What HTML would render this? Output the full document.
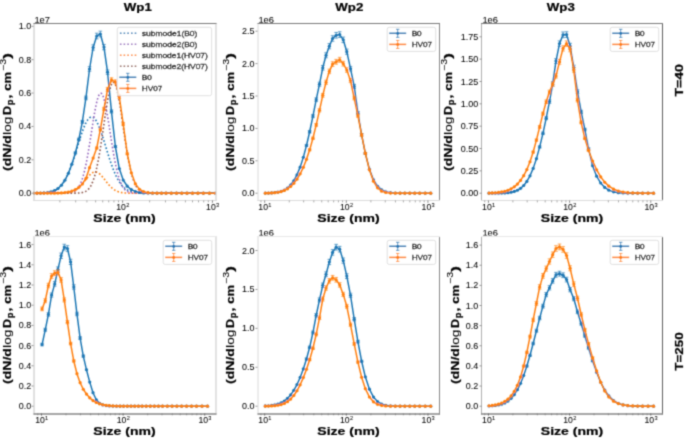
<!DOCTYPE html>
<html><head><meta charset="utf-8"><title>Size distributions</title>
<style>html,body{margin:0;padding:0;background:#fff;width:685px;height:439px;overflow:hidden}svg{display:block;font-family:"Liberation Sans",sans-serif}</style>
</head><body>
<svg width="685" height="439" viewBox="0 0 685 439" font-family="Liberation Sans, sans-serif"><defs><style>text{stroke:#000;stroke-width:0.06px;fill:#000}text[font-weight=bold]{stroke-width:0.22px}text.lg{stroke-width:0.3px}</style><filter id="bl" x="0" y="0" width="685" height="439" filterUnits="userSpaceOnUse"><feConvolveMatrix order="3" kernelMatrix="0.0311 0.1141 0.0311 0.1141 0.4191 0.1141 0.0311 0.1141 0.0311" edgeMode="none"/></filter></defs><rect width="685" height="439" fill="#fff"/><g filter="url(#bl)"><clipPath id="cp00"><rect x="33.50" y="23.50" width="182.00" height="177.00"/></clipPath>
<clipPath id="cp01"><rect x="257.50" y="23.50" width="182.00" height="177.00"/></clipPath>
<clipPath id="cp02"><rect x="481.50" y="23.50" width="181.00" height="177.00"/></clipPath>
<clipPath id="cp10"><rect x="33.50" y="236.50" width="182.00" height="177.00"/></clipPath>
<clipPath id="cp11"><rect x="257.50" y="236.50" width="182.00" height="177.00"/></clipPath>
<clipPath id="cp12"><rect x="481.50" y="236.50" width="181.00" height="177.00"/></clipPath>
<g clip-path="url(#cp00)">
<polyline points="33.50,193.18 33.96,193.18 34.41,193.18 34.87,193.17 35.32,193.17 35.78,193.17 36.24,193.16 36.69,193.16 37.15,193.15 37.61,193.14 38.06,193.14 38.52,193.13 38.97,193.12 39.43,193.11 39.89,193.10 40.34,193.09 40.80,193.07 41.25,193.06 41.71,193.04 42.17,193.02 42.62,193.00 43.08,192.98 43.54,192.95 43.99,192.92 44.45,192.89 44.90,192.86 45.36,192.82 45.82,192.78 46.27,192.73 46.73,192.68 47.18,192.62 47.64,192.56 48.10,192.50 48.55,192.43 49.01,192.35 49.46,192.26 49.92,192.17 50.38,192.07 50.83,191.96 51.29,191.84 51.75,191.71 52.20,191.57 52.66,191.42 53.11,191.26 53.57,191.08 54.03,190.89 54.48,190.69 54.94,190.47 55.39,190.24 55.85,189.99 56.31,189.72 56.76,189.43 57.22,189.13 57.68,188.80 58.13,188.45 58.59,188.08 59.04,187.69 59.50,187.27 59.96,186.83 60.41,186.36 60.87,185.86 61.32,185.34 61.78,184.78 62.24,184.20 62.69,183.59 63.15,182.95 63.61,182.27 64.06,181.57 64.52,180.82 64.97,180.05 65.43,179.24 65.89,178.40 66.34,177.52 66.80,176.61 67.25,175.66 67.71,174.68 68.17,173.66 68.62,172.61 69.08,171.52 69.54,170.40 69.99,169.25 70.45,168.07 70.90,166.85 71.36,165.60 71.82,164.32 72.27,163.02 72.73,161.69 73.18,160.33 73.64,158.95 74.10,157.55 74.55,156.13 75.01,154.70 75.46,153.25 75.92,151.78 76.38,150.31 76.83,148.83 77.29,147.35 77.75,145.86 78.20,144.38 78.66,142.91 79.11,141.44 79.57,139.99 80.03,138.55 80.48,137.13 80.94,135.73 81.39,134.35 81.85,133.01 82.31,131.70 82.76,130.43 83.22,129.19 83.68,128.00 84.13,126.85 84.59,125.76 85.04,124.71 85.50,123.72 85.96,122.79 86.41,121.92 86.87,121.12 87.32,120.38 87.78,119.71 88.24,119.11 88.69,118.58 89.15,118.12 89.61,117.74 90.06,117.43 90.52,117.21 90.97,117.06 91.43,116.98 91.89,116.99 92.34,117.08 92.80,117.24 93.25,117.48 93.71,117.80 94.17,118.19 94.62,118.66 95.08,119.20 95.54,119.81 95.99,120.50 96.45,121.25 96.90,122.07 97.36,122.95 97.82,123.89 98.27,124.88 98.73,125.94 99.18,127.04 99.64,128.20 100.10,129.40 100.55,130.64 101.01,131.92 101.46,133.23 101.92,134.58 102.38,135.96 102.83,137.36 103.29,138.79 103.75,140.23 104.20,141.69 104.66,143.15 105.11,144.63 105.57,146.11 106.03,147.60 106.48,149.08 106.94,150.56 107.39,152.03 107.85,153.49 108.31,154.94 108.76,156.37 109.22,157.79 109.68,159.19 110.13,160.56 110.59,161.91 111.04,163.24 111.50,164.54 111.96,165.81 112.41,167.06 112.87,168.27 113.32,169.45 113.78,170.59 114.24,171.71 114.69,172.79 115.15,173.84 115.61,174.85 116.06,175.82 116.52,176.76 116.97,177.67 117.43,178.54 117.89,179.38 118.34,180.18 118.80,180.95 119.25,181.69 119.71,182.39 120.17,183.06 120.62,183.70 121.08,184.30 121.54,184.88 121.99,185.43 122.45,185.95 122.90,186.44 123.36,186.90 123.82,187.34 124.27,187.75 124.73,188.14 125.18,188.51 125.64,188.85 126.10,189.18 126.55,189.48 127.01,189.76 127.46,190.03 127.92,190.28 128.38,190.51 128.83,190.73 129.29,190.93 129.75,191.11 130.20,191.29 130.66,191.45 131.11,191.59 131.57,191.73 132.03,191.86 132.48,191.98 132.94,192.09 133.39,192.19 133.85,192.28 134.31,192.36 134.76,192.44 135.22,192.51 135.68,192.58 136.13,192.63 136.59,192.69 137.04,192.74 137.50,192.78 137.96,192.82 138.41,192.86 138.87,192.90 139.32,192.93 139.78,192.96 140.24,192.98 140.69,193.00 141.15,193.02 141.61,193.04 142.06,193.06 142.52,193.07 142.97,193.09 143.43,193.10 143.89,193.11 144.34,193.12 144.80,193.13 145.25,193.14 145.71,193.15 146.17,193.15 146.62,193.16 147.08,193.16 147.54,193.17 147.99,193.17 148.45,193.17 148.90,193.18 149.36,193.18 149.82,193.18 150.27,193.18 150.73,193.19 151.18,193.19 151.64,193.19 152.10,193.19 152.55,193.19 153.01,193.19 153.46,193.19 153.92,193.19 154.38,193.20 154.83,193.20 155.29,193.20 155.75,193.20 156.20,193.20 156.66,193.20 157.11,193.20 157.57,193.20 158.03,193.20 158.48,193.20 158.94,193.20 159.39,193.20 159.85,193.20 160.31,193.20 160.76,193.20 161.22,193.20 161.68,193.20 162.13,193.20 162.59,193.20 163.04,193.20 163.50,193.20 163.96,193.20 164.41,193.20 164.87,193.20 165.32,193.20 165.78,193.20 166.24,193.20 166.69,193.20 167.15,193.20 167.61,193.20 168.06,193.20 168.52,193.20 168.97,193.20 169.43,193.20 169.89,193.20 170.34,193.20 170.80,193.20 171.25,193.20 171.71,193.20 172.17,193.20 172.62,193.20 173.08,193.20 173.54,193.20 173.99,193.20 174.45,193.20 174.90,193.20 175.36,193.20 175.82,193.20 176.27,193.20 176.73,193.20 177.18,193.20 177.64,193.20 178.10,193.20 178.55,193.20 179.01,193.20 179.46,193.20 179.92,193.20 180.38,193.20 180.83,193.20 181.29,193.20 181.75,193.20 182.20,193.20 182.66,193.20 183.11,193.20 183.57,193.20 184.03,193.20 184.48,193.20 184.94,193.20 185.39,193.20 185.85,193.20 186.31,193.20 186.76,193.20 187.22,193.20 187.68,193.20 188.13,193.20 188.59,193.20 189.04,193.20 189.50,193.20 189.96,193.20 190.41,193.20 190.87,193.20 191.32,193.20 191.78,193.20 192.24,193.20 192.69,193.20 193.15,193.20 193.61,193.20 194.06,193.20 194.52,193.20 194.97,193.20 195.43,193.20 195.89,193.20 196.34,193.20 196.80,193.20 197.25,193.20 197.71,193.20 198.17,193.20 198.62,193.20 199.08,193.20 199.54,193.20 199.99,193.20 200.45,193.20 200.90,193.20 201.36,193.20 201.82,193.20 202.27,193.20 202.73,193.20 203.18,193.20 203.64,193.20 204.10,193.20 204.55,193.20 205.01,193.20 205.46,193.20 205.92,193.20 206.38,193.20 206.83,193.20 207.29,193.20 207.75,193.20 208.20,193.20 208.66,193.20 209.11,193.20 209.57,193.20 210.03,193.20 210.48,193.20 210.94,193.20 211.39,193.20 211.85,193.20 212.31,193.20 212.76,193.20 213.22,193.20 213.68,193.20 214.13,193.20 214.59,193.20 215.04,193.20 215.50,193.20" fill="none" stroke="#1f77b4" stroke-width="1.6" stroke-dasharray="1.6 2.1" />
<polyline points="33.50,193.20 33.96,193.20 34.41,193.20 34.87,193.20 35.32,193.20 35.78,193.20 36.24,193.20 36.69,193.20 37.15,193.20 37.61,193.20 38.06,193.20 38.52,193.20 38.97,193.20 39.43,193.20 39.89,193.20 40.34,193.20 40.80,193.20 41.25,193.20 41.71,193.20 42.17,193.20 42.62,193.20 43.08,193.20 43.54,193.20 43.99,193.20 44.45,193.20 44.90,193.20 45.36,193.20 45.82,193.20 46.27,193.20 46.73,193.20 47.18,193.20 47.64,193.20 48.10,193.20 48.55,193.20 49.01,193.20 49.46,193.20 49.92,193.20 50.38,193.20 50.83,193.20 51.29,193.20 51.75,193.20 52.20,193.20 52.66,193.20 53.11,193.20 53.57,193.20 54.03,193.20 54.48,193.20 54.94,193.20 55.39,193.20 55.85,193.20 56.31,193.20 56.76,193.20 57.22,193.20 57.68,193.20 58.13,193.20 58.59,193.20 59.04,193.20 59.50,193.19 59.96,193.19 60.41,193.19 60.87,193.19 61.32,193.19 61.78,193.18 62.24,193.18 62.69,193.17 63.15,193.17 63.61,193.16 64.06,193.15 64.52,193.14 64.97,193.13 65.43,193.12 65.89,193.10 66.34,193.08 66.80,193.06 67.25,193.03 67.71,193.00 68.17,192.96 68.62,192.92 69.08,192.87 69.54,192.81 69.99,192.74 70.45,192.67 70.90,192.58 71.36,192.47 71.82,192.35 72.27,192.22 72.73,192.06 73.18,191.88 73.64,191.68 74.10,191.45 74.55,191.20 75.01,190.91 75.46,190.58 75.92,190.22 76.38,189.81 76.83,189.36 77.29,188.86 77.75,188.30 78.20,187.69 78.66,187.01 79.11,186.26 79.57,185.45 80.03,184.56 80.48,183.59 80.94,182.53 81.39,181.39 81.85,180.15 82.31,178.82 82.76,177.40 83.22,175.87 83.68,174.24 84.13,172.50 84.59,170.66 85.04,168.72 85.50,166.67 85.96,164.51 86.41,162.26 86.87,159.90 87.32,157.45 87.78,154.91 88.24,152.29 88.69,149.59 89.15,146.83 89.61,144.00 90.06,141.13 90.52,138.22 90.97,135.28 91.43,132.33 91.89,129.38 92.34,126.45 92.80,123.55 93.25,120.69 93.71,117.89 94.17,115.18 94.62,112.55 95.08,110.03 95.54,107.64 95.99,105.39 96.45,103.29 96.90,101.36 97.36,99.61 97.82,98.05 98.27,96.70 98.73,95.55 99.18,94.63 99.64,93.93 100.10,93.47 100.55,93.24 101.01,93.24 101.46,93.49 101.92,93.96 102.38,94.67 102.83,95.61 103.29,96.76 103.75,98.13 104.20,99.69 104.66,101.45 105.11,103.39 105.57,105.50 106.03,107.76 106.48,110.16 106.94,112.68 107.39,115.31 107.85,118.03 108.31,120.83 108.76,123.69 109.22,126.60 109.68,129.53 110.13,132.48 110.59,135.43 111.04,138.36 111.50,141.27 111.96,144.15 112.41,146.97 112.87,149.73 113.32,152.43 113.78,155.04 114.24,157.58 114.69,160.02 115.15,162.37 115.61,164.62 116.06,166.77 116.52,168.82 116.97,170.76 117.43,172.59 117.89,174.32 118.34,175.95 118.80,177.47 119.25,178.89 119.71,180.22 120.17,181.45 120.62,182.59 121.08,183.64 121.54,184.60 121.99,185.49 122.45,186.30 122.90,187.05 123.36,187.72 123.82,188.33 124.27,188.89 124.73,189.39 125.18,189.84 125.64,190.24 126.10,190.60 126.55,190.92 127.01,191.21 127.46,191.47 127.92,191.69 128.38,191.89 128.83,192.07 129.29,192.22 129.75,192.36 130.20,192.48 130.66,192.58 131.11,192.67 131.57,192.75 132.03,192.81 132.48,192.87 132.94,192.92 133.39,192.97 133.85,193.00 134.31,193.03 134.76,193.06 135.22,193.08 135.68,193.10 136.13,193.12 136.59,193.13 137.04,193.14 137.50,193.15 137.96,193.16 138.41,193.17 138.87,193.17 139.32,193.18 139.78,193.18 140.24,193.19 140.69,193.19 141.15,193.19 141.61,193.19 142.06,193.19 142.52,193.20 142.97,193.20 143.43,193.20 143.89,193.20 144.34,193.20 144.80,193.20 145.25,193.20 145.71,193.20 146.17,193.20 146.62,193.20 147.08,193.20 147.54,193.20 147.99,193.20 148.45,193.20 148.90,193.20 149.36,193.20 149.82,193.20 150.27,193.20 150.73,193.20 151.18,193.20 151.64,193.20 152.10,193.20 152.55,193.20 153.01,193.20 153.46,193.20 153.92,193.20 154.38,193.20 154.83,193.20 155.29,193.20 155.75,193.20 156.20,193.20 156.66,193.20 157.11,193.20 157.57,193.20 158.03,193.20 158.48,193.20 158.94,193.20 159.39,193.20 159.85,193.20 160.31,193.20 160.76,193.20 161.22,193.20 161.68,193.20 162.13,193.20 162.59,193.20 163.04,193.20 163.50,193.20 163.96,193.20 164.41,193.20 164.87,193.20 165.32,193.20 165.78,193.20 166.24,193.20 166.69,193.20 167.15,193.20 167.61,193.20 168.06,193.20 168.52,193.20 168.97,193.20 169.43,193.20 169.89,193.20 170.34,193.20 170.80,193.20 171.25,193.20 171.71,193.20 172.17,193.20 172.62,193.20 173.08,193.20 173.54,193.20 173.99,193.20 174.45,193.20 174.90,193.20 175.36,193.20 175.82,193.20 176.27,193.20 176.73,193.20 177.18,193.20 177.64,193.20 178.10,193.20 178.55,193.20 179.01,193.20 179.46,193.20 179.92,193.20 180.38,193.20 180.83,193.20 181.29,193.20 181.75,193.20 182.20,193.20 182.66,193.20 183.11,193.20 183.57,193.20 184.03,193.20 184.48,193.20 184.94,193.20 185.39,193.20 185.85,193.20 186.31,193.20 186.76,193.20 187.22,193.20 187.68,193.20 188.13,193.20 188.59,193.20 189.04,193.20 189.50,193.20 189.96,193.20 190.41,193.20 190.87,193.20 191.32,193.20 191.78,193.20 192.24,193.20 192.69,193.20 193.15,193.20 193.61,193.20 194.06,193.20 194.52,193.20 194.97,193.20 195.43,193.20 195.89,193.20 196.34,193.20 196.80,193.20 197.25,193.20 197.71,193.20 198.17,193.20 198.62,193.20 199.08,193.20 199.54,193.20 199.99,193.20 200.45,193.20 200.90,193.20 201.36,193.20 201.82,193.20 202.27,193.20 202.73,193.20 203.18,193.20 203.64,193.20 204.10,193.20 204.55,193.20 205.01,193.20 205.46,193.20 205.92,193.20 206.38,193.20 206.83,193.20 207.29,193.20 207.75,193.20 208.20,193.20 208.66,193.20 209.11,193.20 209.57,193.20 210.03,193.20 210.48,193.20 210.94,193.20 211.39,193.20 211.85,193.20 212.31,193.20 212.76,193.20 213.22,193.20 213.68,193.20 214.13,193.20 214.59,193.20 215.04,193.20 215.50,193.20" fill="none" stroke="#9467bd" stroke-width="1.6" stroke-dasharray="1.6 2.1" />
<polyline points="33.50,193.20 33.96,193.20 34.41,193.20 34.87,193.20 35.32,193.20 35.78,193.20 36.24,193.20 36.69,193.20 37.15,193.20 37.61,193.20 38.06,193.20 38.52,193.20 38.97,193.20 39.43,193.20 39.89,193.20 40.34,193.20 40.80,193.20 41.25,193.20 41.71,193.20 42.17,193.20 42.62,193.20 43.08,193.20 43.54,193.20 43.99,193.20 44.45,193.20 44.90,193.20 45.36,193.20 45.82,193.20 46.27,193.20 46.73,193.20 47.18,193.20 47.64,193.20 48.10,193.20 48.55,193.20 49.01,193.20 49.46,193.20 49.92,193.20 50.38,193.20 50.83,193.20 51.29,193.20 51.75,193.20 52.20,193.20 52.66,193.20 53.11,193.20 53.57,193.20 54.03,193.20 54.48,193.19 54.94,193.19 55.39,193.19 55.85,193.19 56.31,193.19 56.76,193.19 57.22,193.18 57.68,193.18 58.13,193.18 58.59,193.17 59.04,193.17 59.50,193.16 59.96,193.16 60.41,193.15 60.87,193.14 61.32,193.13 61.78,193.12 62.24,193.11 62.69,193.09 63.15,193.08 63.61,193.06 64.06,193.04 64.52,193.01 64.97,192.98 65.43,192.95 65.89,192.91 66.34,192.87 66.80,192.83 67.25,192.78 67.71,192.72 68.17,192.66 68.62,192.59 69.08,192.51 69.54,192.42 69.99,192.32 70.45,192.22 70.90,192.10 71.36,191.97 71.82,191.83 72.27,191.68 72.73,191.51 73.18,191.33 73.64,191.14 74.10,190.93 74.55,190.70 75.01,190.46 75.46,190.19 75.92,189.91 76.38,189.62 76.83,189.30 77.29,188.96 77.75,188.60 78.20,188.23 78.66,187.83 79.11,187.41 79.57,186.98 80.03,186.52 80.48,186.05 80.94,185.56 81.39,185.06 81.85,184.53 82.31,184.00 82.76,183.45 83.22,182.89 83.68,182.32 84.13,181.74 84.59,181.16 85.04,180.57 85.50,179.98 85.96,179.40 86.41,178.82 86.87,178.24 87.32,177.67 87.78,177.12 88.24,176.58 88.69,176.06 89.15,175.56 89.61,175.08 90.06,174.63 90.52,174.20 90.97,173.81 91.43,173.45 91.89,173.12 92.34,172.83 92.80,172.58 93.25,172.37 93.71,172.20 94.17,172.08 94.62,171.99 95.08,171.96 95.54,171.96 95.99,172.01 96.45,172.11 96.90,172.24 97.36,172.42 97.82,172.64 98.27,172.90 98.73,173.20 99.18,173.54 99.64,173.91 100.10,174.31 100.55,174.74 101.01,175.20 101.46,175.69 101.92,176.19 102.38,176.72 102.83,177.26 103.29,177.82 103.75,178.39 104.20,178.97 104.66,179.55 105.11,180.14 105.57,180.73 106.03,181.31 106.48,181.89 106.94,182.47 107.39,183.04 107.85,183.59 108.31,184.14 108.76,184.67 109.22,185.19 109.68,185.69 110.13,186.18 110.59,186.65 111.04,187.10 111.50,187.53 111.96,187.94 112.41,188.33 112.87,188.70 113.32,189.05 113.78,189.38 114.24,189.70 114.69,189.99 115.15,190.27 115.61,190.52 116.06,190.76 116.52,190.99 116.97,191.19 117.43,191.38 117.89,191.56 118.34,191.72 118.80,191.87 119.25,192.01 119.71,192.13 120.17,192.25 120.62,192.35 121.08,192.44 121.54,192.53 121.99,192.60 122.45,192.67 122.90,192.74 123.36,192.79 123.82,192.84 124.27,192.88 124.73,192.92 125.18,192.96 125.64,192.99 126.10,193.02 126.55,193.04 127.01,193.06 127.46,193.08 127.92,193.10 128.38,193.11 128.83,193.12 129.29,193.14 129.75,193.14 130.20,193.15 130.66,193.16 131.11,193.17 131.57,193.17 132.03,193.18 132.48,193.18 132.94,193.18 133.39,193.19 133.85,193.19 134.31,193.19 134.76,193.19 135.22,193.19 135.68,193.19 136.13,193.19 136.59,193.20 137.04,193.20 137.50,193.20 137.96,193.20 138.41,193.20 138.87,193.20 139.32,193.20 139.78,193.20 140.24,193.20 140.69,193.20 141.15,193.20 141.61,193.20 142.06,193.20 142.52,193.20 142.97,193.20 143.43,193.20 143.89,193.20 144.34,193.20 144.80,193.20 145.25,193.20 145.71,193.20 146.17,193.20 146.62,193.20 147.08,193.20 147.54,193.20 147.99,193.20 148.45,193.20 148.90,193.20 149.36,193.20 149.82,193.20 150.27,193.20 150.73,193.20 151.18,193.20 151.64,193.20 152.10,193.20 152.55,193.20 153.01,193.20 153.46,193.20 153.92,193.20 154.38,193.20 154.83,193.20 155.29,193.20 155.75,193.20 156.20,193.20 156.66,193.20 157.11,193.20 157.57,193.20 158.03,193.20 158.48,193.20 158.94,193.20 159.39,193.20 159.85,193.20 160.31,193.20 160.76,193.20 161.22,193.20 161.68,193.20 162.13,193.20 162.59,193.20 163.04,193.20 163.50,193.20 163.96,193.20 164.41,193.20 164.87,193.20 165.32,193.20 165.78,193.20 166.24,193.20 166.69,193.20 167.15,193.20 167.61,193.20 168.06,193.20 168.52,193.20 168.97,193.20 169.43,193.20 169.89,193.20 170.34,193.20 170.80,193.20 171.25,193.20 171.71,193.20 172.17,193.20 172.62,193.20 173.08,193.20 173.54,193.20 173.99,193.20 174.45,193.20 174.90,193.20 175.36,193.20 175.82,193.20 176.27,193.20 176.73,193.20 177.18,193.20 177.64,193.20 178.10,193.20 178.55,193.20 179.01,193.20 179.46,193.20 179.92,193.20 180.38,193.20 180.83,193.20 181.29,193.20 181.75,193.20 182.20,193.20 182.66,193.20 183.11,193.20 183.57,193.20 184.03,193.20 184.48,193.20 184.94,193.20 185.39,193.20 185.85,193.20 186.31,193.20 186.76,193.20 187.22,193.20 187.68,193.20 188.13,193.20 188.59,193.20 189.04,193.20 189.50,193.20 189.96,193.20 190.41,193.20 190.87,193.20 191.32,193.20 191.78,193.20 192.24,193.20 192.69,193.20 193.15,193.20 193.61,193.20 194.06,193.20 194.52,193.20 194.97,193.20 195.43,193.20 195.89,193.20 196.34,193.20 196.80,193.20 197.25,193.20 197.71,193.20 198.17,193.20 198.62,193.20 199.08,193.20 199.54,193.20 199.99,193.20 200.45,193.20 200.90,193.20 201.36,193.20 201.82,193.20 202.27,193.20 202.73,193.20 203.18,193.20 203.64,193.20 204.10,193.20 204.55,193.20 205.01,193.20 205.46,193.20 205.92,193.20 206.38,193.20 206.83,193.20 207.29,193.20 207.75,193.20 208.20,193.20 208.66,193.20 209.11,193.20 209.57,193.20 210.03,193.20 210.48,193.20 210.94,193.20 211.39,193.20 211.85,193.20 212.31,193.20 212.76,193.20 213.22,193.20 213.68,193.20 214.13,193.20 214.59,193.20 215.04,193.20 215.50,193.20" fill="none" stroke="#ff7f0e" stroke-width="1.6" stroke-dasharray="1.6 2.1" />
<polyline points="33.50,193.20 33.96,193.20 34.41,193.20 34.87,193.20 35.32,193.20 35.78,193.20 36.24,193.20 36.69,193.20 37.15,193.20 37.61,193.20 38.06,193.20 38.52,193.20 38.97,193.20 39.43,193.20 39.89,193.20 40.34,193.20 40.80,193.20 41.25,193.20 41.71,193.20 42.17,193.20 42.62,193.20 43.08,193.20 43.54,193.20 43.99,193.20 44.45,193.20 44.90,193.20 45.36,193.20 45.82,193.20 46.27,193.20 46.73,193.20 47.18,193.20 47.64,193.20 48.10,193.20 48.55,193.20 49.01,193.20 49.46,193.20 49.92,193.20 50.38,193.20 50.83,193.20 51.29,193.20 51.75,193.20 52.20,193.20 52.66,193.20 53.11,193.20 53.57,193.20 54.03,193.20 54.48,193.20 54.94,193.20 55.39,193.20 55.85,193.20 56.31,193.20 56.76,193.20 57.22,193.20 57.68,193.20 58.13,193.20 58.59,193.20 59.04,193.20 59.50,193.20 59.96,193.20 60.41,193.20 60.87,193.20 61.32,193.20 61.78,193.20 62.24,193.20 62.69,193.20 63.15,193.20 63.61,193.20 64.06,193.20 64.52,193.20 64.97,193.20 65.43,193.20 65.89,193.20 66.34,193.20 66.80,193.20 67.25,193.20 67.71,193.20 68.17,193.20 68.62,193.20 69.08,193.20 69.54,193.20 69.99,193.20 70.45,193.19 70.90,193.19 71.36,193.19 71.82,193.19 72.27,193.19 72.73,193.18 73.18,193.18 73.64,193.18 74.10,193.17 74.55,193.16 75.01,193.16 75.46,193.15 75.92,193.14 76.38,193.12 76.83,193.11 77.29,193.09 77.75,193.07 78.20,193.05 78.66,193.02 79.11,192.99 79.57,192.95 80.03,192.90 80.48,192.85 80.94,192.79 81.39,192.72 81.85,192.64 82.31,192.55 82.76,192.44 83.22,192.32 83.68,192.19 84.13,192.03 84.59,191.85 85.04,191.65 85.50,191.43 85.96,191.17 86.41,190.89 86.87,190.57 87.32,190.21 87.78,189.81 88.24,189.36 88.69,188.87 89.15,188.33 89.61,187.72 90.06,187.06 90.52,186.33 90.97,185.53 91.43,184.66 91.89,183.71 92.34,182.68 92.80,181.56 93.25,180.36 93.71,179.05 94.17,177.65 94.62,176.15 95.08,174.55 95.54,172.84 95.99,171.02 96.45,169.09 96.90,167.06 97.36,164.91 97.82,162.66 98.27,160.30 98.73,157.83 99.18,155.26 99.64,152.60 100.10,149.85 100.55,147.01 101.01,144.10 101.46,141.12 101.92,138.07 102.38,134.98 102.83,131.86 103.29,128.70 103.75,125.54 104.20,122.38 104.66,119.23 105.11,116.11 105.57,113.04 106.03,110.03 106.48,107.10 106.94,104.27 107.39,101.54 107.85,98.94 108.31,96.48 108.76,94.17 109.22,92.03 109.68,90.08 110.13,88.32 110.59,86.76 111.04,85.42 111.50,84.31 111.96,83.42 112.41,82.78 112.87,82.37 113.32,82.21 113.78,82.30 114.24,82.63 114.69,83.20 115.15,84.02 115.61,85.06 116.06,86.33 116.52,87.83 116.97,89.52 117.43,91.42 117.89,93.51 118.34,95.76 118.80,98.18 119.25,100.74 119.71,103.43 120.17,106.24 120.62,109.14 121.08,112.13 121.54,115.18 121.99,118.29 122.45,121.43 122.90,124.59 123.36,127.75 123.82,130.91 124.27,134.05 124.73,137.15 125.18,140.21 125.64,143.21 126.10,146.14 126.55,149.00 127.01,151.78 127.46,154.47 127.92,157.07 128.38,159.56 128.83,161.96 129.29,164.24 129.75,166.42 130.20,168.49 130.66,170.45 131.11,172.30 131.57,174.04 132.03,175.68 132.48,177.21 132.94,178.64 133.39,179.97 133.85,181.21 134.31,182.35 134.76,183.41 135.22,184.39 135.68,185.28 136.13,186.10 136.59,186.85 137.04,187.53 137.50,188.15 137.96,188.71 138.41,189.22 138.87,189.68 139.32,190.09 139.78,190.46 140.24,190.79 140.69,191.09 141.15,191.35 141.61,191.59 142.06,191.80 142.52,191.98 142.97,192.14 143.43,192.28 143.89,192.41 144.34,192.52 144.80,192.61 145.25,192.70 145.71,192.77 146.17,192.83 146.62,192.89 147.08,192.93 147.54,192.97 147.99,193.01 148.45,193.04 148.90,193.06 149.36,193.09 149.82,193.10 150.27,193.12 150.73,193.13 151.18,193.14 151.64,193.15 152.10,193.16 152.55,193.17 153.01,193.17 153.46,193.18 153.92,193.18 154.38,193.19 154.83,193.19 155.29,193.19 155.75,193.19 156.20,193.19 156.66,193.19 157.11,193.20 157.57,193.20 158.03,193.20 158.48,193.20 158.94,193.20 159.39,193.20 159.85,193.20 160.31,193.20 160.76,193.20 161.22,193.20 161.68,193.20 162.13,193.20 162.59,193.20 163.04,193.20 163.50,193.20 163.96,193.20 164.41,193.20 164.87,193.20 165.32,193.20 165.78,193.20 166.24,193.20 166.69,193.20 167.15,193.20 167.61,193.20 168.06,193.20 168.52,193.20 168.97,193.20 169.43,193.20 169.89,193.20 170.34,193.20 170.80,193.20 171.25,193.20 171.71,193.20 172.17,193.20 172.62,193.20 173.08,193.20 173.54,193.20 173.99,193.20 174.45,193.20 174.90,193.20 175.36,193.20 175.82,193.20 176.27,193.20 176.73,193.20 177.18,193.20 177.64,193.20 178.10,193.20 178.55,193.20 179.01,193.20 179.46,193.20 179.92,193.20 180.38,193.20 180.83,193.20 181.29,193.20 181.75,193.20 182.20,193.20 182.66,193.20 183.11,193.20 183.57,193.20 184.03,193.20 184.48,193.20 184.94,193.20 185.39,193.20 185.85,193.20 186.31,193.20 186.76,193.20 187.22,193.20 187.68,193.20 188.13,193.20 188.59,193.20 189.04,193.20 189.50,193.20 189.96,193.20 190.41,193.20 190.87,193.20 191.32,193.20 191.78,193.20 192.24,193.20 192.69,193.20 193.15,193.20 193.61,193.20 194.06,193.20 194.52,193.20 194.97,193.20 195.43,193.20 195.89,193.20 196.34,193.20 196.80,193.20 197.25,193.20 197.71,193.20 198.17,193.20 198.62,193.20 199.08,193.20 199.54,193.20 199.99,193.20 200.45,193.20 200.90,193.20 201.36,193.20 201.82,193.20 202.27,193.20 202.73,193.20 203.18,193.20 203.64,193.20 204.10,193.20 204.55,193.20 205.01,193.20 205.46,193.20 205.92,193.20 206.38,193.20 206.83,193.20 207.29,193.20 207.75,193.20 208.20,193.20 208.66,193.20 209.11,193.20 209.57,193.20 210.03,193.20 210.48,193.20 210.94,193.20 211.39,193.20 211.85,193.20 212.31,193.20 212.76,193.20 213.22,193.20 213.68,193.20 214.13,193.20 214.59,193.20 215.04,193.20 215.50,193.20" fill="none" stroke="#8c564b" stroke-width="1.6" stroke-dasharray="1.6 2.1" />
<polyline points="33.50,193.18 36.99,193.14 40.48,193.07 43.96,192.89 47.45,192.54 50.94,191.87 54.43,190.65 57.91,188.57 61.40,185.25 64.89,180.27 68.38,173.30 71.86,164.19 75.35,152.94 78.84,139.29 82.33,121.86 85.93,97.90 89.54,69.00 93.14,47.50 96.74,36.00 100.35,34.00 103.95,47.10 107.56,72.20 111.46,111.40 115.37,146.50 119.27,168.59 123.18,180.03 127.26,186.22 131.33,189.62 135.41,191.48 139.49,192.43 143.56,192.88 148.05,193.09 152.54,193.17 157.03,193.19 161.52,193.20 166.01,193.20 171.26,193.20 176.51,193.20 181.77,193.20 187.02,193.20 192.47,193.20 197.91,193.20 203.36,193.20 209.43,193.20 215.50,193.20" fill="none" stroke="#1f77b4" stroke-width="1.5" stroke-linejoin="round"/>
<path d="M75.35 152.00V153.89M73.55 152.00h3.6M73.55 153.89h3.6M78.84 138.13V140.46M77.04 138.13h3.6M77.04 140.46h3.6M82.33 120.42V123.30M80.53 120.42h3.6M80.53 123.30h3.6M85.93 96.08V99.72M84.13 96.08h3.6M84.13 99.72h3.6M89.54 66.71V71.29M87.74 66.71h3.6M87.74 71.29h3.6M93.14 44.87V50.13M91.34 44.87h3.6M91.34 50.13h3.6M96.74 33.18V38.82M94.94 33.18h3.6M94.94 38.82h3.6M100.35 31.15V36.85M98.55 31.15h3.6M98.55 36.85h3.6M103.95 44.46V49.74M102.15 44.46h3.6M102.15 49.74h3.6M107.56 69.96V74.44M105.76 69.96h3.6M105.76 74.44h3.6M111.46 109.79V113.01M109.66 109.79h3.6M109.66 113.01h3.6M115.37 145.45V147.54M113.57 145.45h3.6M113.57 147.54h3.6" fill="none" stroke="#1f77b4" stroke-width="0.8" opacity="0.85"/>
<g fill="#1f77b4"><circle cx="33.50" cy="193.18" r="1.6"/><circle cx="36.99" cy="193.14" r="1.6"/><circle cx="40.48" cy="193.07" r="1.6"/><circle cx="43.96" cy="192.89" r="1.6"/><circle cx="47.45" cy="192.54" r="1.6"/><circle cx="50.94" cy="191.87" r="1.6"/><circle cx="54.43" cy="190.65" r="1.6"/><circle cx="57.91" cy="188.57" r="1.6"/><circle cx="61.40" cy="185.25" r="1.6"/><circle cx="64.89" cy="180.27" r="1.6"/><circle cx="68.38" cy="173.30" r="1.6"/><circle cx="71.86" cy="164.19" r="1.6"/><circle cx="75.35" cy="152.94" r="1.6"/><circle cx="78.84" cy="139.29" r="1.6"/><circle cx="82.33" cy="121.86" r="1.6"/><circle cx="85.93" cy="97.90" r="1.6"/><circle cx="89.54" cy="69.00" r="1.6"/><circle cx="93.14" cy="47.50" r="1.6"/><circle cx="96.74" cy="36.00" r="1.6"/><circle cx="100.35" cy="34.00" r="1.6"/><circle cx="103.95" cy="47.10" r="1.6"/><circle cx="107.56" cy="72.20" r="1.6"/><circle cx="111.46" cy="111.40" r="1.6"/><circle cx="115.37" cy="146.50" r="1.6"/><circle cx="119.27" cy="168.59" r="1.6"/><circle cx="123.18" cy="180.03" r="1.6"/><circle cx="127.26" cy="186.22" r="1.6"/><circle cx="131.33" cy="189.62" r="1.6"/><circle cx="135.41" cy="191.48" r="1.6"/><circle cx="139.49" cy="192.43" r="1.6"/><circle cx="143.56" cy="192.88" r="1.6"/><circle cx="148.05" cy="193.09" r="1.6"/><circle cx="152.54" cy="193.17" r="1.6"/><circle cx="157.03" cy="193.19" r="1.6"/><circle cx="161.52" cy="193.20" r="1.6"/><circle cx="166.01" cy="193.20" r="1.6"/><circle cx="171.26" cy="193.20" r="1.6"/><circle cx="176.51" cy="193.20" r="1.6"/><circle cx="181.77" cy="193.20" r="1.6"/><circle cx="187.02" cy="193.20" r="1.6"/><circle cx="192.47" cy="193.20" r="1.6"/><circle cx="197.91" cy="193.20" r="1.6"/><circle cx="203.36" cy="193.20" r="1.6"/><circle cx="209.43" cy="193.20" r="1.6"/><circle cx="215.50" cy="193.20" r="1.6"/></g>
<polyline points="33.50,193.20 36.99,193.20 40.48,193.20 43.96,193.20 47.45,193.19 50.94,193.18 54.43,193.14 57.91,193.07 61.40,192.91 64.89,192.60 68.38,192.05 71.86,191.10 75.35,189.59 78.84,187.30 82.33,183.98 85.93,178.39 89.54,167.70 93.14,158.11 96.74,148.00 100.35,129.60 103.95,109.00 107.56,89.40 111.46,79.90 115.37,81.90 119.27,96.60 123.18,123.90 127.26,153.75 131.33,172.81 135.41,183.92 139.49,189.35 143.56,191.68 148.05,192.67 152.54,193.02 157.03,193.14 161.52,193.18 166.01,193.19 171.26,193.20 176.51,193.20 181.77,193.20 187.02,193.20 192.47,193.20 197.91,193.20 203.36,193.20 209.43,193.20 215.50,193.20" fill="none" stroke="#ff7f0e" stroke-width="1.5" stroke-linejoin="round"/>
<path d="M96.74 146.97V149.02M94.94 146.97h3.6M94.94 149.02h3.6M100.35 128.28V130.92M98.55 128.28h3.6M98.55 130.92h3.6M103.95 107.35V110.65M102.15 107.35h3.6M102.15 110.65h3.6M107.56 87.44V91.36M105.76 87.44h3.6M105.76 91.36h3.6M111.46 77.79V82.01M109.66 77.79h3.6M109.66 82.01h3.6M115.37 79.82V83.98M113.57 79.82h3.6M113.57 83.98h3.6M119.27 94.75V98.45M117.47 94.75h3.6M117.47 98.45h3.6M123.18 122.49V125.31M121.38 122.49h3.6M121.38 125.31h3.6M127.26 152.82V154.68M125.46 152.82h3.6M125.46 154.68h3.6" fill="none" stroke="#ff7f0e" stroke-width="0.8" opacity="0.85"/>
<g fill="#ff7f0e"><circle cx="33.50" cy="193.20" r="1.6"/><circle cx="36.99" cy="193.20" r="1.6"/><circle cx="40.48" cy="193.20" r="1.6"/><circle cx="43.96" cy="193.20" r="1.6"/><circle cx="47.45" cy="193.19" r="1.6"/><circle cx="50.94" cy="193.18" r="1.6"/><circle cx="54.43" cy="193.14" r="1.6"/><circle cx="57.91" cy="193.07" r="1.6"/><circle cx="61.40" cy="192.91" r="1.6"/><circle cx="64.89" cy="192.60" r="1.6"/><circle cx="68.38" cy="192.05" r="1.6"/><circle cx="71.86" cy="191.10" r="1.6"/><circle cx="75.35" cy="189.59" r="1.6"/><circle cx="78.84" cy="187.30" r="1.6"/><circle cx="82.33" cy="183.98" r="1.6"/><circle cx="85.93" cy="178.39" r="1.6"/><circle cx="89.54" cy="167.70" r="1.6"/><circle cx="93.14" cy="158.11" r="1.6"/><circle cx="96.74" cy="148.00" r="1.6"/><circle cx="100.35" cy="129.60" r="1.6"/><circle cx="103.95" cy="109.00" r="1.6"/><circle cx="107.56" cy="89.40" r="1.6"/><circle cx="111.46" cy="79.90" r="1.6"/><circle cx="115.37" cy="81.90" r="1.6"/><circle cx="119.27" cy="96.60" r="1.6"/><circle cx="123.18" cy="123.90" r="1.6"/><circle cx="127.26" cy="153.75" r="1.6"/><circle cx="131.33" cy="172.81" r="1.6"/><circle cx="135.41" cy="183.92" r="1.6"/><circle cx="139.49" cy="189.35" r="1.6"/><circle cx="143.56" cy="191.68" r="1.6"/><circle cx="148.05" cy="192.67" r="1.6"/><circle cx="152.54" cy="193.02" r="1.6"/><circle cx="157.03" cy="193.14" r="1.6"/><circle cx="161.52" cy="193.18" r="1.6"/><circle cx="166.01" cy="193.19" r="1.6"/><circle cx="171.26" cy="193.20" r="1.6"/><circle cx="176.51" cy="193.20" r="1.6"/><circle cx="181.77" cy="193.20" r="1.6"/><circle cx="187.02" cy="193.20" r="1.6"/><circle cx="192.47" cy="193.20" r="1.6"/><circle cx="197.91" cy="193.20" r="1.6"/><circle cx="203.36" cy="193.20" r="1.6"/><circle cx="209.43" cy="193.20" r="1.6"/><circle cx="215.50" cy="193.20" r="1.6"/></g>
</g>
<line x1="34.00" y1="23.00" x2="34.00" y2="201.00" stroke="rgb(194,194,194)" stroke-width="1.00"/>
<line x1="216.00" y1="23.00" x2="216.00" y2="201.00" stroke="rgb(199,199,199)" stroke-width="1.00"/>
<line x1="33.50" y1="23.50" x2="216.50" y2="23.50" stroke="rgb(124,124,124)" stroke-width="1.00"/>
<line x1="33.50" y1="200.50" x2="216.50" y2="200.50" stroke="rgb(219,219,219)" stroke-width="1.00"/>
<text x="121.14" y="210.10" font-size="8.50" text-anchor="middle" font-weight="normal" textLength="9.69" lengthAdjust="spacingAndGlyphs" fill="#1a1a1a">10</text>
<text x="126.24" y="206.70" font-size="5.60" text-anchor="start" font-weight="normal" fill="#1a1a1a">2</text>
<text x="210.93" y="210.10" font-size="8.50" text-anchor="middle" font-weight="normal" textLength="9.69" lengthAdjust="spacingAndGlyphs" fill="#1a1a1a">10</text>
<text x="216.03" y="206.70" font-size="5.60" text-anchor="start" font-weight="normal" fill="#1a1a1a">3</text>
<line x1="59.88" y1="200.50" x2="59.88" y2="202.30" stroke="#777" stroke-width="0.7"/><line x1="75.69" y1="200.50" x2="75.69" y2="202.30" stroke="#777" stroke-width="0.7"/><line x1="86.91" y1="200.50" x2="86.91" y2="202.30" stroke="#777" stroke-width="0.7"/><line x1="95.61" y1="200.50" x2="95.61" y2="202.30" stroke="#777" stroke-width="0.7"/><line x1="102.72" y1="200.50" x2="102.72" y2="202.30" stroke="#777" stroke-width="0.7"/><line x1="108.73" y1="200.50" x2="108.73" y2="202.30" stroke="#777" stroke-width="0.7"/><line x1="113.94" y1="200.50" x2="113.94" y2="202.30" stroke="#777" stroke-width="0.7"/><line x1="118.53" y1="200.50" x2="118.53" y2="202.30" stroke="#777" stroke-width="0.7"/><line x1="122.64" y1="200.50" x2="122.64" y2="202.70" stroke="#555" stroke-width="0.8"/><line x1="149.67" y1="200.50" x2="149.67" y2="202.30" stroke="#777" stroke-width="0.7"/><line x1="165.48" y1="200.50" x2="165.48" y2="202.30" stroke="#777" stroke-width="0.7"/><line x1="176.70" y1="200.50" x2="176.70" y2="202.30" stroke="#777" stroke-width="0.7"/><line x1="185.40" y1="200.50" x2="185.40" y2="202.30" stroke="#777" stroke-width="0.7"/><line x1="192.51" y1="200.50" x2="192.51" y2="202.30" stroke="#777" stroke-width="0.7"/><line x1="198.52" y1="200.50" x2="198.52" y2="202.30" stroke="#777" stroke-width="0.7"/><line x1="203.73" y1="200.50" x2="203.73" y2="202.30" stroke="#777" stroke-width="0.7"/><line x1="208.32" y1="200.50" x2="208.32" y2="202.30" stroke="#777" stroke-width="0.7"/><line x1="212.43" y1="200.50" x2="212.43" y2="202.70" stroke="#555" stroke-width="0.8"/>
<line x1="31.50" y1="193.20" x2="33.50" y2="193.20" stroke="#777" stroke-width="0.8"/>
<text x="31.30" y="196.25" font-size="8.50" text-anchor="end" font-weight="normal" textLength="12.49" lengthAdjust="spacingAndGlyphs" fill="#1a1a1a">0.0</text>
<line x1="31.50" y1="159.82" x2="33.50" y2="159.82" stroke="#777" stroke-width="0.8"/>
<text x="31.30" y="162.87" font-size="8.50" text-anchor="end" font-weight="normal" textLength="12.49" lengthAdjust="spacingAndGlyphs" fill="#1a1a1a">0.2</text>
<line x1="31.50" y1="126.44" x2="33.50" y2="126.44" stroke="#777" stroke-width="0.8"/>
<text x="31.30" y="129.49" font-size="8.50" text-anchor="end" font-weight="normal" textLength="12.49" lengthAdjust="spacingAndGlyphs" fill="#1a1a1a">0.4</text>
<line x1="31.50" y1="93.06" x2="33.50" y2="93.06" stroke="#777" stroke-width="0.8"/>
<text x="31.30" y="96.11" font-size="8.50" text-anchor="end" font-weight="normal" textLength="12.49" lengthAdjust="spacingAndGlyphs" fill="#1a1a1a">0.6</text>
<line x1="31.50" y1="59.68" x2="33.50" y2="59.68" stroke="#777" stroke-width="0.8"/>
<text x="31.30" y="62.73" font-size="8.50" text-anchor="end" font-weight="normal" textLength="12.49" lengthAdjust="spacingAndGlyphs" fill="#1a1a1a">0.8</text>
<line x1="31.50" y1="26.30" x2="33.50" y2="26.30" stroke="#777" stroke-width="0.8"/>
<text x="31.30" y="29.35" font-size="8.50" text-anchor="end" font-weight="normal" textLength="12.49" lengthAdjust="spacingAndGlyphs" fill="#1a1a1a">1.0</text>
<text x="34.40" y="22.60" font-size="9.18" text-anchor="start" font-weight="normal" textLength="15.59" lengthAdjust="spacingAndGlyphs" fill="#1a1a1a">1e7</text>
<text x="124.50" y="221.70" font-size="11.00" text-anchor="middle" font-weight="bold" textLength="62.30" lengthAdjust="spacingAndGlyphs" fill="#000">Size (nm)</text>
<g transform="translate(11.10,112.00) rotate(-90)" fill="#000"><text x="-59.00" y="0.00" font-size="11.40" font-weight="bold" textLength="35.90" lengthAdjust="spacingAndGlyphs">(dN/d</text><text x="-22.90" y="0.00" font-size="11.40" font-weight="normal" textLength="18.30" lengthAdjust="spacingAndGlyphs">log</text><text x="-3.00" y="0.00" font-size="11.40" font-weight="bold" textLength="9.00" lengthAdjust="spacingAndGlyphs">D</text><text x="6.90" y="2.00" font-size="8.20" font-weight="bold" textLength="5.40" lengthAdjust="spacingAndGlyphs">p</text><text x="13.40" y="0.00" font-size="11.40" font-weight="bold" textLength="3.80" lengthAdjust="spacingAndGlyphs">,</text><text x="21.20" y="0.00" font-size="11.40" font-weight="bold" textLength="18.90" lengthAdjust="spacingAndGlyphs">cm</text><text x="41.00" y="-5.20" font-size="8.60" font-weight="normal" textLength="12.20" lengthAdjust="spacingAndGlyphs">−3</text><text x="52.90" y="0.00" font-size="11.40" font-weight="bold" textLength="6.00" lengthAdjust="spacingAndGlyphs">)</text></g>
<rect x="117.30" y="27.30" width="94.30" height="68.40" rx="2" fill="#fff" fill-opacity="0.8" stroke="#d8d8d8" stroke-width="0.8"/>
<line x1="119.90" y1="33.20" x2="136.50" y2="33.20" stroke="#1f77b4" stroke-width="1.6" stroke-dasharray="1.6 2.1"/>
<text x="141.80" y="36.05" font-size="7.95" text-anchor="start" font-weight="normal" textLength="55.61" lengthAdjust="spacingAndGlyphs" class="lg">submode1(B0)</text>
<line x1="119.90" y1="44.20" x2="136.50" y2="44.20" stroke="#9467bd" stroke-width="1.6" stroke-dasharray="1.6 2.1"/>
<text x="141.80" y="47.05" font-size="7.95" text-anchor="start" font-weight="normal" textLength="55.61" lengthAdjust="spacingAndGlyphs" class="lg">submode2(B0)</text>
<line x1="119.90" y1="55.20" x2="136.50" y2="55.20" stroke="#ff7f0e" stroke-width="1.6" stroke-dasharray="1.6 2.1"/>
<text x="141.80" y="58.05" font-size="7.95" text-anchor="start" font-weight="normal" textLength="66.07" lengthAdjust="spacingAndGlyphs" class="lg">submode1(HV07)</text>
<line x1="119.90" y1="66.20" x2="136.50" y2="66.20" stroke="#8c564b" stroke-width="1.6" stroke-dasharray="1.6 2.1"/>
<text x="141.80" y="69.05" font-size="7.95" text-anchor="start" font-weight="normal" textLength="66.07" lengthAdjust="spacingAndGlyphs" class="lg">submode2(HV07)</text>
<line x1="119.30" y1="77.30" x2="136.30" y2="77.30" stroke="#1f77b4" stroke-width="1.5"/>
<path d="M127.80 73.30V81.30M126.10 73.30h3.4M126.10 81.30h3.4" stroke="#1f77b4" stroke-width="0.8" fill="none"/>
<circle cx="127.80" cy="77.30" r="1.6" fill="#1f77b4"/>
<text x="141.80" y="80.15" font-size="7.95" text-anchor="start" font-weight="normal" textLength="9.98" lengthAdjust="spacingAndGlyphs" class="lg">B0</text>
<line x1="119.30" y1="88.40" x2="136.30" y2="88.40" stroke="#ff7f0e" stroke-width="1.5"/>
<path d="M127.80 84.40V92.40M126.10 84.40h3.4M126.10 92.40h3.4" stroke="#ff7f0e" stroke-width="0.8" fill="none"/>
<circle cx="127.80" cy="88.40" r="1.6" fill="#ff7f0e"/>
<text x="141.80" y="91.25" font-size="7.95" text-anchor="start" font-weight="normal" textLength="20.45" lengthAdjust="spacingAndGlyphs" class="lg">HV07</text>
<g clip-path="url(#cp01)">
<polyline points="265.27,193.12 268.44,193.03 271.61,192.88 274.78,192.60 277.95,192.11 281.13,191.30 284.30,190.01 287.47,188.01 290.64,185.03 293.81,180.76 296.98,174.89 300.15,167.15 303.32,157.36 306.49,145.49 309.66,131.76 312.94,116.09 316.21,99.65 319.49,84.20 322.77,67.80 326.04,55.30 329.32,46.20 332.60,38.50 336.15,35.30 339.70,34.60 343.25,39.80 346.80,51.70 350.51,68.70 354.21,86.40 357.92,113.16 361.62,134.78 365.33,153.42 369.41,169.18 373.49,179.86 377.57,186.35 381.65,189.93 385.74,191.73 390.51,192.66 395.29,193.01 400.06,193.14 404.84,193.18 409.79,193.19 414.74,193.20 419.69,193.20 425.21,193.20 430.73,193.20" fill="none" stroke="#1f77b4" stroke-width="1.5" stroke-linejoin="round"/>
<path d="M306.49 144.43V146.55M304.69 144.43h3.6M304.69 146.55h3.6M309.66 130.48V133.04M307.86 130.48h3.6M307.86 133.04h3.6M312.94 114.56V117.62M311.14 114.56h3.6M311.14 117.62h3.6M316.21 97.85V101.44M314.41 97.85h3.6M314.41 101.44h3.6M319.49 82.16V86.24M317.69 82.16h3.6M317.69 86.24h3.6M322.77 65.49V70.11M320.97 65.49h3.6M320.97 70.11h3.6M326.04 52.79V57.81M324.24 52.79h3.6M324.24 57.81h3.6M329.32 43.55V48.85M327.52 43.55h3.6M327.52 48.85h3.6M332.60 35.72V41.28M330.80 35.72h3.6M330.80 41.28h3.6M336.15 32.47V38.13M334.35 32.47h3.6M334.35 38.13h3.6M339.70 31.76V37.44M337.90 31.76h3.6M337.90 37.44h3.6M343.25 37.05V42.55M341.45 37.05h3.6M341.45 42.55h3.6M346.80 49.14V54.26M345.00 49.14h3.6M345.00 54.26h3.6M350.51 66.41V70.99M348.71 66.41h3.6M348.71 70.99h3.6M354.21 84.39V88.41M352.41 84.39h3.6M352.41 88.41h3.6M357.92 111.58V114.74M356.12 111.58h3.6M356.12 114.74h3.6M361.62 133.54V136.01M359.82 133.54h3.6M359.82 136.01h3.6M365.33 152.49V154.36M363.53 152.49h3.6M363.53 154.36h3.6" fill="none" stroke="#1f77b4" stroke-width="0.8" opacity="0.85"/>
<g fill="#1f77b4"><circle cx="265.27" cy="193.12" r="1.6"/><circle cx="268.44" cy="193.03" r="1.6"/><circle cx="271.61" cy="192.88" r="1.6"/><circle cx="274.78" cy="192.60" r="1.6"/><circle cx="277.95" cy="192.11" r="1.6"/><circle cx="281.13" cy="191.30" r="1.6"/><circle cx="284.30" cy="190.01" r="1.6"/><circle cx="287.47" cy="188.01" r="1.6"/><circle cx="290.64" cy="185.03" r="1.6"/><circle cx="293.81" cy="180.76" r="1.6"/><circle cx="296.98" cy="174.89" r="1.6"/><circle cx="300.15" cy="167.15" r="1.6"/><circle cx="303.32" cy="157.36" r="1.6"/><circle cx="306.49" cy="145.49" r="1.6"/><circle cx="309.66" cy="131.76" r="1.6"/><circle cx="312.94" cy="116.09" r="1.6"/><circle cx="316.21" cy="99.65" r="1.6"/><circle cx="319.49" cy="84.20" r="1.6"/><circle cx="322.77" cy="67.80" r="1.6"/><circle cx="326.04" cy="55.30" r="1.6"/><circle cx="329.32" cy="46.20" r="1.6"/><circle cx="332.60" cy="38.50" r="1.6"/><circle cx="336.15" cy="35.30" r="1.6"/><circle cx="339.70" cy="34.60" r="1.6"/><circle cx="343.25" cy="39.80" r="1.6"/><circle cx="346.80" cy="51.70" r="1.6"/><circle cx="350.51" cy="68.70" r="1.6"/><circle cx="354.21" cy="86.40" r="1.6"/><circle cx="357.92" cy="113.16" r="1.6"/><circle cx="361.62" cy="134.78" r="1.6"/><circle cx="365.33" cy="153.42" r="1.6"/><circle cx="369.41" cy="169.18" r="1.6"/><circle cx="373.49" cy="179.86" r="1.6"/><circle cx="377.57" cy="186.35" r="1.6"/><circle cx="381.65" cy="189.93" r="1.6"/><circle cx="385.74" cy="191.73" r="1.6"/><circle cx="390.51" cy="192.66" r="1.6"/><circle cx="395.29" cy="193.01" r="1.6"/><circle cx="400.06" cy="193.14" r="1.6"/><circle cx="404.84" cy="193.18" r="1.6"/><circle cx="409.79" cy="193.19" r="1.6"/><circle cx="414.74" cy="193.20" r="1.6"/><circle cx="419.69" cy="193.20" r="1.6"/><circle cx="425.21" cy="193.20" r="1.6"/><circle cx="430.73" cy="193.20" r="1.6"/></g>
<polyline points="265.27,193.13 268.44,193.05 271.61,192.91 274.78,192.66 277.95,192.23 281.13,191.53 284.30,190.43 287.47,188.80 290.64,186.48 293.81,183.31 296.98,179.15 300.15,173.87 303.32,167.32 306.49,159.36 309.66,149.84 312.94,138.23 316.21,124.90 319.49,110.30 322.77,95.36 326.04,82.30 329.32,71.40 332.60,64.10 336.15,61.80 339.70,59.80 343.25,63.70 346.80,70.00 350.51,80.50 354.21,98.04 357.92,115.69 361.62,134.94 365.33,153.30 369.41,169.86 373.49,181.24 377.57,187.86 381.65,191.13 385.74,192.50 390.51,193.04 395.29,193.17 400.06,193.20 404.84,193.20 409.79,193.20 414.74,193.20 419.69,193.20 425.21,193.20 430.73,193.20" fill="none" stroke="#ff7f0e" stroke-width="1.5" stroke-linejoin="round"/>
<path d="M309.66 148.85V150.83M307.86 148.85h3.6M307.86 150.83h3.6M312.94 137.05V139.41M311.14 137.05h3.6M311.14 139.41h3.6M316.21 123.51V126.30M314.41 123.51h3.6M314.41 126.30h3.6M319.49 108.67V111.92M317.69 108.67h3.6M317.69 111.92h3.6M322.77 93.49V97.22M320.97 93.49h3.6M320.97 97.22h3.6M326.04 80.23V84.37M324.24 80.23h3.6M324.24 84.37h3.6M329.32 69.15V73.65M327.52 69.15h3.6M327.52 73.65h3.6M332.60 61.73V66.47M330.80 61.73h3.6M330.80 66.47h3.6M336.15 59.40V64.20M334.35 59.40h3.6M334.35 64.20h3.6M339.70 57.37V62.23M337.90 57.37h3.6M337.90 62.23h3.6M343.25 61.33V66.07M341.45 61.33h3.6M341.45 66.07h3.6M346.80 67.73V72.27M345.00 67.73h3.6M345.00 72.27h3.6M350.51 78.40V82.60M348.71 78.40h3.6M348.71 82.60h3.6M354.21 96.22V99.86M352.41 96.22h3.6M352.41 99.86h3.6M357.92 114.15V117.23M356.12 114.15h3.6M356.12 117.23h3.6M361.62 133.70V136.17M359.82 133.70h3.6M359.82 136.17h3.6M365.33 152.36V154.24M363.53 152.36h3.6M363.53 154.24h3.6" fill="none" stroke="#ff7f0e" stroke-width="0.8" opacity="0.85"/>
<g fill="#ff7f0e"><circle cx="265.27" cy="193.13" r="1.6"/><circle cx="268.44" cy="193.05" r="1.6"/><circle cx="271.61" cy="192.91" r="1.6"/><circle cx="274.78" cy="192.66" r="1.6"/><circle cx="277.95" cy="192.23" r="1.6"/><circle cx="281.13" cy="191.53" r="1.6"/><circle cx="284.30" cy="190.43" r="1.6"/><circle cx="287.47" cy="188.80" r="1.6"/><circle cx="290.64" cy="186.48" r="1.6"/><circle cx="293.81" cy="183.31" r="1.6"/><circle cx="296.98" cy="179.15" r="1.6"/><circle cx="300.15" cy="173.87" r="1.6"/><circle cx="303.32" cy="167.32" r="1.6"/><circle cx="306.49" cy="159.36" r="1.6"/><circle cx="309.66" cy="149.84" r="1.6"/><circle cx="312.94" cy="138.23" r="1.6"/><circle cx="316.21" cy="124.90" r="1.6"/><circle cx="319.49" cy="110.30" r="1.6"/><circle cx="322.77" cy="95.36" r="1.6"/><circle cx="326.04" cy="82.30" r="1.6"/><circle cx="329.32" cy="71.40" r="1.6"/><circle cx="332.60" cy="64.10" r="1.6"/><circle cx="336.15" cy="61.80" r="1.6"/><circle cx="339.70" cy="59.80" r="1.6"/><circle cx="343.25" cy="63.70" r="1.6"/><circle cx="346.80" cy="70.00" r="1.6"/><circle cx="350.51" cy="80.50" r="1.6"/><circle cx="354.21" cy="98.04" r="1.6"/><circle cx="357.92" cy="115.69" r="1.6"/><circle cx="361.62" cy="134.94" r="1.6"/><circle cx="365.33" cy="153.30" r="1.6"/><circle cx="369.41" cy="169.86" r="1.6"/><circle cx="373.49" cy="181.24" r="1.6"/><circle cx="377.57" cy="187.86" r="1.6"/><circle cx="381.65" cy="191.13" r="1.6"/><circle cx="385.74" cy="192.50" r="1.6"/><circle cx="390.51" cy="193.04" r="1.6"/><circle cx="395.29" cy="193.17" r="1.6"/><circle cx="400.06" cy="193.20" r="1.6"/><circle cx="404.84" cy="193.20" r="1.6"/><circle cx="409.79" cy="193.20" r="1.6"/><circle cx="414.74" cy="193.20" r="1.6"/><circle cx="419.69" cy="193.20" r="1.6"/><circle cx="425.21" cy="193.20" r="1.6"/><circle cx="430.73" cy="193.20" r="1.6"/></g>
</g>
<line x1="258.00" y1="23.00" x2="258.00" y2="201.00" stroke="rgb(218,218,218)" stroke-width="1.00"/>
<line x1="439.50" y1="23.00" x2="439.50" y2="201.00" stroke="rgb(136,136,136)" stroke-width="1.00"/>
<line x1="257.50" y1="23.50" x2="440.00" y2="23.50" stroke="rgb(124,124,124)" stroke-width="1.00"/>
<line x1="257.50" y1="200.50" x2="440.00" y2="200.50" stroke="rgb(219,219,219)" stroke-width="1.00"/>
<text x="263.19" y="210.10" font-size="8.50" text-anchor="middle" font-weight="normal" textLength="9.69" lengthAdjust="spacingAndGlyphs" fill="#1a1a1a">10</text>
<text x="268.29" y="206.70" font-size="5.60" text-anchor="start" font-weight="normal" fill="#1a1a1a">1</text>
<text x="344.81" y="210.10" font-size="8.50" text-anchor="middle" font-weight="normal" textLength="9.69" lengthAdjust="spacingAndGlyphs" fill="#1a1a1a">10</text>
<text x="349.91" y="206.70" font-size="5.60" text-anchor="start" font-weight="normal" fill="#1a1a1a">2</text>
<text x="426.44" y="210.10" font-size="8.50" text-anchor="middle" font-weight="normal" textLength="9.69" lengthAdjust="spacingAndGlyphs" fill="#1a1a1a">10</text>
<text x="431.54" y="206.70" font-size="5.60" text-anchor="start" font-weight="normal" fill="#1a1a1a">3</text>
<line x1="260.95" y1="200.50" x2="260.95" y2="202.30" stroke="#777" stroke-width="0.7"/><line x1="264.69" y1="200.50" x2="264.69" y2="202.70" stroke="#555" stroke-width="0.8"/><line x1="289.26" y1="200.50" x2="289.26" y2="202.30" stroke="#777" stroke-width="0.7"/><line x1="303.63" y1="200.50" x2="303.63" y2="202.30" stroke="#777" stroke-width="0.7"/><line x1="313.83" y1="200.50" x2="313.83" y2="202.30" stroke="#777" stroke-width="0.7"/><line x1="321.74" y1="200.50" x2="321.74" y2="202.30" stroke="#777" stroke-width="0.7"/><line x1="328.20" y1="200.50" x2="328.20" y2="202.30" stroke="#777" stroke-width="0.7"/><line x1="333.67" y1="200.50" x2="333.67" y2="202.30" stroke="#777" stroke-width="0.7"/><line x1="338.40" y1="200.50" x2="338.40" y2="202.30" stroke="#777" stroke-width="0.7"/><line x1="342.58" y1="200.50" x2="342.58" y2="202.30" stroke="#777" stroke-width="0.7"/><line x1="346.31" y1="200.50" x2="346.31" y2="202.70" stroke="#555" stroke-width="0.8"/><line x1="370.88" y1="200.50" x2="370.88" y2="202.30" stroke="#777" stroke-width="0.7"/><line x1="385.26" y1="200.50" x2="385.26" y2="202.30" stroke="#777" stroke-width="0.7"/><line x1="395.45" y1="200.50" x2="395.45" y2="202.30" stroke="#777" stroke-width="0.7"/><line x1="403.36" y1="200.50" x2="403.36" y2="202.30" stroke="#777" stroke-width="0.7"/><line x1="409.83" y1="200.50" x2="409.83" y2="202.30" stroke="#777" stroke-width="0.7"/><line x1="415.29" y1="200.50" x2="415.29" y2="202.30" stroke="#777" stroke-width="0.7"/><line x1="420.03" y1="200.50" x2="420.03" y2="202.30" stroke="#777" stroke-width="0.7"/><line x1="424.20" y1="200.50" x2="424.20" y2="202.30" stroke="#777" stroke-width="0.7"/><line x1="427.94" y1="200.50" x2="427.94" y2="202.70" stroke="#555" stroke-width="0.8"/>
<line x1="255.50" y1="193.20" x2="257.50" y2="193.20" stroke="#777" stroke-width="0.8"/>
<text x="254.60" y="196.25" font-size="8.50" text-anchor="end" font-weight="normal" textLength="12.49" lengthAdjust="spacingAndGlyphs" fill="#1a1a1a">0.0</text>
<line x1="255.50" y1="160.80" x2="257.50" y2="160.80" stroke="#777" stroke-width="0.8"/>
<text x="254.60" y="163.85" font-size="8.50" text-anchor="end" font-weight="normal" textLength="12.49" lengthAdjust="spacingAndGlyphs" fill="#1a1a1a">0.5</text>
<line x1="255.50" y1="128.40" x2="257.50" y2="128.40" stroke="#777" stroke-width="0.8"/>
<text x="254.60" y="131.45" font-size="8.50" text-anchor="end" font-weight="normal" textLength="12.49" lengthAdjust="spacingAndGlyphs" fill="#1a1a1a">1.0</text>
<line x1="255.50" y1="96.00" x2="257.50" y2="96.00" stroke="#777" stroke-width="0.8"/>
<text x="254.60" y="99.05" font-size="8.50" text-anchor="end" font-weight="normal" textLength="12.49" lengthAdjust="spacingAndGlyphs" fill="#1a1a1a">1.5</text>
<line x1="255.50" y1="63.60" x2="257.50" y2="63.60" stroke="#777" stroke-width="0.8"/>
<text x="254.60" y="66.65" font-size="8.50" text-anchor="end" font-weight="normal" textLength="12.49" lengthAdjust="spacingAndGlyphs" fill="#1a1a1a">2.0</text>
<line x1="255.50" y1="31.20" x2="257.50" y2="31.20" stroke="#777" stroke-width="0.8"/>
<text x="254.60" y="34.25" font-size="8.50" text-anchor="end" font-weight="normal" textLength="12.49" lengthAdjust="spacingAndGlyphs" fill="#1a1a1a">2.5</text>
<text x="258.40" y="22.60" font-size="9.18" text-anchor="start" font-weight="normal" textLength="15.59" lengthAdjust="spacingAndGlyphs" fill="#1a1a1a">1e6</text>
<text x="348.50" y="221.70" font-size="11.00" text-anchor="middle" font-weight="bold" textLength="62.30" lengthAdjust="spacingAndGlyphs" fill="#000">Size (nm)</text>
<g transform="translate(234.20,112.00) rotate(-90)" fill="#000"><text x="-59.00" y="0.00" font-size="11.40" font-weight="bold" textLength="35.90" lengthAdjust="spacingAndGlyphs">(dN/d</text><text x="-22.90" y="0.00" font-size="11.40" font-weight="normal" textLength="18.30" lengthAdjust="spacingAndGlyphs">log</text><text x="-3.00" y="0.00" font-size="11.40" font-weight="bold" textLength="9.00" lengthAdjust="spacingAndGlyphs">D</text><text x="6.90" y="2.00" font-size="8.20" font-weight="bold" textLength="5.40" lengthAdjust="spacingAndGlyphs">p</text><text x="13.40" y="0.00" font-size="11.40" font-weight="bold" textLength="3.80" lengthAdjust="spacingAndGlyphs">,</text><text x="21.20" y="0.00" font-size="11.40" font-weight="bold" textLength="18.90" lengthAdjust="spacingAndGlyphs">cm</text><text x="41.00" y="-5.20" font-size="8.60" font-weight="normal" textLength="12.20" lengthAdjust="spacingAndGlyphs">−3</text><text x="52.90" y="0.00" font-size="11.40" font-weight="bold" textLength="6.00" lengthAdjust="spacingAndGlyphs">)</text></g>
<rect x="387.20" y="27.30" width="48.50" height="24.10" rx="2" fill="#fff" fill-opacity="0.8" stroke="#d8d8d8" stroke-width="0.8"/>
<line x1="389.20" y1="33.30" x2="406.20" y2="33.30" stroke="#1f77b4" stroke-width="1.5"/>
<path d="M397.70 29.30V37.30M396.00 29.30h3.4M396.00 37.30h3.4" stroke="#1f77b4" stroke-width="0.8" fill="none"/>
<circle cx="397.70" cy="33.30" r="1.6" fill="#1f77b4"/>
<text x="411.70" y="36.15" font-size="7.95" text-anchor="start" font-weight="normal" textLength="9.98" lengthAdjust="spacingAndGlyphs" class="lg">B0</text>
<line x1="389.20" y1="44.40" x2="406.20" y2="44.40" stroke="#ff7f0e" stroke-width="1.5"/>
<path d="M397.70 40.40V48.40M396.00 40.40h3.4M396.00 48.40h3.4" stroke="#ff7f0e" stroke-width="0.8" fill="none"/>
<circle cx="397.70" cy="44.40" r="1.6" fill="#ff7f0e"/>
<text x="411.70" y="47.25" font-size="7.95" text-anchor="start" font-weight="normal" textLength="20.45" lengthAdjust="spacingAndGlyphs" class="lg">HV07</text>
<g clip-path="url(#cp02)">
<polyline points="489.03,193.19 492.18,193.18 495.33,193.17 498.49,193.13 501.64,193.05 504.79,192.92 507.95,192.66 511.10,192.22 514.25,191.47 517.41,190.25 520.56,188.35 523.71,185.51 526.86,181.42 530.02,175.80 533.17,168.38 536.43,158.67 539.69,146.91 542.95,133.30 546.21,118.13 549.46,101.61 552.72,83.88 555.98,61.10 559.51,43.60 563.04,34.80 566.58,34.60 570.11,46.00 573.79,67.50 577.48,91.65 581.16,111.89 584.85,129.57 588.53,148.81 592.59,165.66 596.65,176.17 600.71,183.02 604.77,187.45 608.83,190.14 613.58,191.84 618.33,192.64 623.07,192.99 627.82,193.13 632.75,193.18 637.67,193.19 642.60,193.20 648.09,193.20 653.57,193.20" fill="none" stroke="#1f77b4" stroke-width="1.5" stroke-linejoin="round"/>
<path d="M539.69 145.87V147.96M537.89 145.87h3.6M537.89 147.96h3.6M542.95 132.04V134.56M541.15 132.04h3.6M541.15 134.56h3.6M546.21 116.63V119.63M544.41 116.63h3.6M544.41 119.63h3.6M549.46 99.85V103.38M547.66 99.85h3.6M547.66 103.38h3.6M552.72 81.83V85.93M550.92 81.83h3.6M550.92 85.93h3.6M555.98 58.69V63.51M554.18 58.69h3.6M554.18 63.51h3.6M559.51 40.91V46.29M557.71 40.91h3.6M557.71 46.29h3.6M563.04 31.97V37.63M561.24 31.97h3.6M561.24 37.63h3.6M566.58 31.76V37.44M564.78 31.76h3.6M564.78 37.44h3.6M570.11 43.34V48.66M568.31 43.34h3.6M568.31 48.66h3.6M573.79 65.19V69.81M571.99 65.19h3.6M571.99 69.81h3.6M577.48 89.73V93.58M575.68 89.73h3.6M575.68 93.58h3.6M581.16 110.28V113.49M579.36 110.28h3.6M579.36 113.49h3.6M584.85 128.25V130.89M583.05 128.25h3.6M583.05 130.89h3.6M588.53 147.80V149.82M586.73 147.80h3.6M586.73 149.82h3.6" fill="none" stroke="#1f77b4" stroke-width="0.8" opacity="0.85"/>
<g fill="#1f77b4"><circle cx="489.03" cy="193.19" r="1.6"/><circle cx="492.18" cy="193.18" r="1.6"/><circle cx="495.33" cy="193.17" r="1.6"/><circle cx="498.49" cy="193.13" r="1.6"/><circle cx="501.64" cy="193.05" r="1.6"/><circle cx="504.79" cy="192.92" r="1.6"/><circle cx="507.95" cy="192.66" r="1.6"/><circle cx="511.10" cy="192.22" r="1.6"/><circle cx="514.25" cy="191.47" r="1.6"/><circle cx="517.41" cy="190.25" r="1.6"/><circle cx="520.56" cy="188.35" r="1.6"/><circle cx="523.71" cy="185.51" r="1.6"/><circle cx="526.86" cy="181.42" r="1.6"/><circle cx="530.02" cy="175.80" r="1.6"/><circle cx="533.17" cy="168.38" r="1.6"/><circle cx="536.43" cy="158.67" r="1.6"/><circle cx="539.69" cy="146.91" r="1.6"/><circle cx="542.95" cy="133.30" r="1.6"/><circle cx="546.21" cy="118.13" r="1.6"/><circle cx="549.46" cy="101.61" r="1.6"/><circle cx="552.72" cy="83.88" r="1.6"/><circle cx="555.98" cy="61.10" r="1.6"/><circle cx="559.51" cy="43.60" r="1.6"/><circle cx="563.04" cy="34.80" r="1.6"/><circle cx="566.58" cy="34.60" r="1.6"/><circle cx="570.11" cy="46.00" r="1.6"/><circle cx="573.79" cy="67.50" r="1.6"/><circle cx="577.48" cy="91.65" r="1.6"/><circle cx="581.16" cy="111.89" r="1.6"/><circle cx="584.85" cy="129.57" r="1.6"/><circle cx="588.53" cy="148.81" r="1.6"/><circle cx="592.59" cy="165.66" r="1.6"/><circle cx="596.65" cy="176.17" r="1.6"/><circle cx="600.71" cy="183.02" r="1.6"/><circle cx="604.77" cy="187.45" r="1.6"/><circle cx="608.83" cy="190.14" r="1.6"/><circle cx="613.58" cy="191.84" r="1.6"/><circle cx="618.33" cy="192.64" r="1.6"/><circle cx="623.07" cy="192.99" r="1.6"/><circle cx="627.82" cy="193.13" r="1.6"/><circle cx="632.75" cy="193.18" r="1.6"/><circle cx="637.67" cy="193.19" r="1.6"/><circle cx="642.60" cy="193.20" r="1.6"/><circle cx="648.09" cy="193.20" r="1.6"/><circle cx="653.57" cy="193.20" r="1.6"/></g>
<polyline points="489.03,193.04 492.18,192.92 495.33,192.73 498.49,192.43 501.64,191.97 504.79,191.28 507.95,190.26 511.10,188.82 514.25,186.81 517.41,184.09 520.56,180.46 523.71,175.71 526.86,169.56 530.02,161.73 533.17,152.03 536.43,140.12 539.69,126.93 542.95,113.66 546.21,101.73 549.46,92.08 552.72,84.21 555.98,75.89 559.51,61.90 563.04,48.40 566.58,43.60 570.11,49.20 573.79,69.90 577.48,100.15 581.16,122.38 584.85,138.31 588.53,150.27 592.59,160.99 596.65,169.83 600.71,176.88 604.77,182.25 608.83,186.14 613.58,189.18 618.33,191.04 623.07,192.10 627.82,192.67 632.75,192.96 637.67,193.10 642.60,193.16 648.09,193.19 653.57,193.20" fill="none" stroke="#ff7f0e" stroke-width="1.5" stroke-linejoin="round"/>
<path d="M533.17 151.07V152.99M531.37 151.07h3.6M531.37 152.99h3.6M536.43 138.97V141.27M534.63 138.97h3.6M534.63 141.27h3.6M539.69 125.57V128.29M537.89 125.57h3.6M537.89 128.29h3.6M542.95 112.08V115.23M541.15 112.08h3.6M541.15 115.23h3.6M546.21 99.97V103.50M544.41 99.97h3.6M544.41 103.50h3.6M549.46 90.17V94.00M547.66 90.17h3.6M547.66 94.00h3.6M552.72 82.16V86.25M550.92 82.16h3.6M550.92 86.25h3.6M555.98 73.71V78.06M554.18 73.71h3.6M554.18 78.06h3.6M559.51 59.50V64.30M557.71 59.50h3.6M557.71 64.30h3.6M563.04 45.78V51.02M561.24 45.78h3.6M561.24 51.02h3.6M566.58 40.91V46.29M564.78 40.91h3.6M564.78 46.29h3.6M570.11 46.60V51.80M568.31 46.60h3.6M568.31 51.80h3.6M573.79 67.63V72.17M571.99 67.63h3.6M571.99 72.17h3.6M577.48 98.37V101.94M575.68 98.37h3.6M575.68 101.94h3.6M581.16 120.95V123.81M579.36 120.95h3.6M579.36 123.81h3.6M584.85 137.13V139.49M583.05 137.13h3.6M583.05 139.49h3.6M588.53 149.29V151.26M586.73 149.29h3.6M586.73 151.26h3.6" fill="none" stroke="#ff7f0e" stroke-width="0.8" opacity="0.85"/>
<g fill="#ff7f0e"><circle cx="489.03" cy="193.04" r="1.6"/><circle cx="492.18" cy="192.92" r="1.6"/><circle cx="495.33" cy="192.73" r="1.6"/><circle cx="498.49" cy="192.43" r="1.6"/><circle cx="501.64" cy="191.97" r="1.6"/><circle cx="504.79" cy="191.28" r="1.6"/><circle cx="507.95" cy="190.26" r="1.6"/><circle cx="511.10" cy="188.82" r="1.6"/><circle cx="514.25" cy="186.81" r="1.6"/><circle cx="517.41" cy="184.09" r="1.6"/><circle cx="520.56" cy="180.46" r="1.6"/><circle cx="523.71" cy="175.71" r="1.6"/><circle cx="526.86" cy="169.56" r="1.6"/><circle cx="530.02" cy="161.73" r="1.6"/><circle cx="533.17" cy="152.03" r="1.6"/><circle cx="536.43" cy="140.12" r="1.6"/><circle cx="539.69" cy="126.93" r="1.6"/><circle cx="542.95" cy="113.66" r="1.6"/><circle cx="546.21" cy="101.73" r="1.6"/><circle cx="549.46" cy="92.08" r="1.6"/><circle cx="552.72" cy="84.21" r="1.6"/><circle cx="555.98" cy="75.89" r="1.6"/><circle cx="559.51" cy="61.90" r="1.6"/><circle cx="563.04" cy="48.40" r="1.6"/><circle cx="566.58" cy="43.60" r="1.6"/><circle cx="570.11" cy="49.20" r="1.6"/><circle cx="573.79" cy="69.90" r="1.6"/><circle cx="577.48" cy="100.15" r="1.6"/><circle cx="581.16" cy="122.38" r="1.6"/><circle cx="584.85" cy="138.31" r="1.6"/><circle cx="588.53" cy="150.27" r="1.6"/><circle cx="592.59" cy="160.99" r="1.6"/><circle cx="596.65" cy="169.83" r="1.6"/><circle cx="600.71" cy="176.88" r="1.6"/><circle cx="604.77" cy="182.25" r="1.6"/><circle cx="608.83" cy="186.14" r="1.6"/><circle cx="613.58" cy="189.18" r="1.6"/><circle cx="618.33" cy="191.04" r="1.6"/><circle cx="623.07" cy="192.10" r="1.6"/><circle cx="627.82" cy="192.67" r="1.6"/><circle cx="632.75" cy="192.96" r="1.6"/><circle cx="637.67" cy="193.10" r="1.6"/><circle cx="642.60" cy="193.16" r="1.6"/><circle cx="648.09" cy="193.19" r="1.6"/><circle cx="653.57" cy="193.20" r="1.6"/></g>
</g>
<line x1="481.50" y1="23.00" x2="481.50" y2="201.00" stroke="rgb(176,176,176)" stroke-width="1.00"/>
<line x1="662.50" y1="23.00" x2="662.50" y2="201.00" stroke="rgb(97,97,97)" stroke-width="1.00"/>
<line x1="481.00" y1="23.50" x2="663.00" y2="23.50" stroke="rgb(124,124,124)" stroke-width="1.00"/>
<line x1="481.00" y1="200.50" x2="663.00" y2="200.50" stroke="rgb(219,219,219)" stroke-width="1.00"/>
<text x="486.94" y="210.10" font-size="8.50" text-anchor="middle" font-weight="normal" textLength="9.69" lengthAdjust="spacingAndGlyphs" fill="#1a1a1a">10</text>
<text x="492.04" y="206.70" font-size="5.60" text-anchor="start" font-weight="normal" fill="#1a1a1a">1</text>
<text x="568.12" y="210.10" font-size="8.50" text-anchor="middle" font-weight="normal" textLength="9.69" lengthAdjust="spacingAndGlyphs" fill="#1a1a1a">10</text>
<text x="573.22" y="206.70" font-size="5.60" text-anchor="start" font-weight="normal" fill="#1a1a1a">2</text>
<text x="649.30" y="210.10" font-size="8.50" text-anchor="middle" font-weight="normal" textLength="9.69" lengthAdjust="spacingAndGlyphs" fill="#1a1a1a">10</text>
<text x="654.40" y="206.70" font-size="5.60" text-anchor="start" font-weight="normal" fill="#1a1a1a">3</text>
<line x1="484.73" y1="200.50" x2="484.73" y2="202.30" stroke="#777" stroke-width="0.7"/><line x1="488.44" y1="200.50" x2="488.44" y2="202.70" stroke="#555" stroke-width="0.8"/><line x1="512.88" y1="200.50" x2="512.88" y2="202.30" stroke="#777" stroke-width="0.7"/><line x1="527.17" y1="200.50" x2="527.17" y2="202.30" stroke="#777" stroke-width="0.7"/><line x1="537.32" y1="200.50" x2="537.32" y2="202.30" stroke="#777" stroke-width="0.7"/><line x1="545.18" y1="200.50" x2="545.18" y2="202.30" stroke="#777" stroke-width="0.7"/><line x1="551.61" y1="200.50" x2="551.61" y2="202.30" stroke="#777" stroke-width="0.7"/><line x1="557.05" y1="200.50" x2="557.05" y2="202.30" stroke="#777" stroke-width="0.7"/><line x1="561.75" y1="200.50" x2="561.75" y2="202.30" stroke="#777" stroke-width="0.7"/><line x1="565.91" y1="200.50" x2="565.91" y2="202.30" stroke="#777" stroke-width="0.7"/><line x1="569.62" y1="200.50" x2="569.62" y2="202.70" stroke="#555" stroke-width="0.8"/><line x1="594.06" y1="200.50" x2="594.06" y2="202.30" stroke="#777" stroke-width="0.7"/><line x1="608.35" y1="200.50" x2="608.35" y2="202.30" stroke="#777" stroke-width="0.7"/><line x1="618.49" y1="200.50" x2="618.49" y2="202.30" stroke="#777" stroke-width="0.7"/><line x1="626.36" y1="200.50" x2="626.36" y2="202.30" stroke="#777" stroke-width="0.7"/><line x1="632.79" y1="200.50" x2="632.79" y2="202.30" stroke="#777" stroke-width="0.7"/><line x1="638.22" y1="200.50" x2="638.22" y2="202.30" stroke="#777" stroke-width="0.7"/><line x1="642.93" y1="200.50" x2="642.93" y2="202.30" stroke="#777" stroke-width="0.7"/><line x1="647.08" y1="200.50" x2="647.08" y2="202.30" stroke="#777" stroke-width="0.7"/><line x1="650.80" y1="200.50" x2="650.80" y2="202.70" stroke="#555" stroke-width="0.8"/>
<line x1="479.50" y1="193.20" x2="481.50" y2="193.20" stroke="#777" stroke-width="0.8"/>
<text x="478.20" y="196.25" font-size="8.50" text-anchor="end" font-weight="normal" textLength="17.49" lengthAdjust="spacingAndGlyphs" fill="#1a1a1a">0.00</text>
<line x1="479.50" y1="170.86" x2="481.50" y2="170.86" stroke="#777" stroke-width="0.8"/>
<text x="478.20" y="173.91" font-size="8.50" text-anchor="end" font-weight="normal" textLength="17.49" lengthAdjust="spacingAndGlyphs" fill="#1a1a1a">0.25</text>
<line x1="479.50" y1="148.51" x2="481.50" y2="148.51" stroke="#777" stroke-width="0.8"/>
<text x="478.20" y="151.56" font-size="8.50" text-anchor="end" font-weight="normal" textLength="17.49" lengthAdjust="spacingAndGlyphs" fill="#1a1a1a">0.50</text>
<line x1="479.50" y1="126.17" x2="481.50" y2="126.17" stroke="#777" stroke-width="0.8"/>
<text x="478.20" y="129.22" font-size="8.50" text-anchor="end" font-weight="normal" textLength="17.49" lengthAdjust="spacingAndGlyphs" fill="#1a1a1a">0.75</text>
<line x1="479.50" y1="103.83" x2="481.50" y2="103.83" stroke="#777" stroke-width="0.8"/>
<text x="478.20" y="106.88" font-size="8.50" text-anchor="end" font-weight="normal" textLength="17.49" lengthAdjust="spacingAndGlyphs" fill="#1a1a1a">1.00</text>
<line x1="479.50" y1="81.49" x2="481.50" y2="81.49" stroke="#777" stroke-width="0.8"/>
<text x="478.20" y="84.54" font-size="8.50" text-anchor="end" font-weight="normal" textLength="17.49" lengthAdjust="spacingAndGlyphs" fill="#1a1a1a">1.25</text>
<line x1="479.50" y1="59.14" x2="481.50" y2="59.14" stroke="#777" stroke-width="0.8"/>
<text x="478.20" y="62.19" font-size="8.50" text-anchor="end" font-weight="normal" textLength="17.49" lengthAdjust="spacingAndGlyphs" fill="#1a1a1a">1.50</text>
<line x1="479.50" y1="36.80" x2="481.50" y2="36.80" stroke="#777" stroke-width="0.8"/>
<text x="478.20" y="39.85" font-size="8.50" text-anchor="end" font-weight="normal" textLength="17.49" lengthAdjust="spacingAndGlyphs" fill="#1a1a1a">1.75</text>
<text x="482.40" y="22.60" font-size="9.18" text-anchor="start" font-weight="normal" textLength="15.59" lengthAdjust="spacingAndGlyphs" fill="#1a1a1a">1e6</text>
<text x="572.00" y="221.70" font-size="11.00" text-anchor="middle" font-weight="bold" textLength="62.30" lengthAdjust="spacingAndGlyphs" fill="#000">Size (nm)</text>
<g transform="translate(452.00,112.00) rotate(-90)" fill="#000"><text x="-59.00" y="0.00" font-size="11.40" font-weight="bold" textLength="35.90" lengthAdjust="spacingAndGlyphs">(dN/d</text><text x="-22.90" y="0.00" font-size="11.40" font-weight="normal" textLength="18.30" lengthAdjust="spacingAndGlyphs">log</text><text x="-3.00" y="0.00" font-size="11.40" font-weight="bold" textLength="9.00" lengthAdjust="spacingAndGlyphs">D</text><text x="6.90" y="2.00" font-size="8.20" font-weight="bold" textLength="5.40" lengthAdjust="spacingAndGlyphs">p</text><text x="13.40" y="0.00" font-size="11.40" font-weight="bold" textLength="3.80" lengthAdjust="spacingAndGlyphs">,</text><text x="21.20" y="0.00" font-size="11.40" font-weight="bold" textLength="18.90" lengthAdjust="spacingAndGlyphs">cm</text><text x="41.00" y="-5.20" font-size="8.60" font-weight="normal" textLength="12.20" lengthAdjust="spacingAndGlyphs">−3</text><text x="52.90" y="0.00" font-size="11.40" font-weight="bold" textLength="6.00" lengthAdjust="spacingAndGlyphs">)</text></g>
<rect x="610.20" y="27.30" width="48.50" height="24.10" rx="2" fill="#fff" fill-opacity="0.8" stroke="#d8d8d8" stroke-width="0.8"/>
<line x1="612.20" y1="33.30" x2="629.20" y2="33.30" stroke="#1f77b4" stroke-width="1.5"/>
<path d="M620.70 29.30V37.30M619.00 29.30h3.4M619.00 37.30h3.4" stroke="#1f77b4" stroke-width="0.8" fill="none"/>
<circle cx="620.70" cy="33.30" r="1.6" fill="#1f77b4"/>
<text x="634.70" y="36.15" font-size="7.95" text-anchor="start" font-weight="normal" textLength="9.98" lengthAdjust="spacingAndGlyphs" class="lg">B0</text>
<line x1="612.20" y1="44.40" x2="629.20" y2="44.40" stroke="#ff7f0e" stroke-width="1.5"/>
<path d="M620.70 40.40V48.40M619.00 40.40h3.4M619.00 48.40h3.4" stroke="#ff7f0e" stroke-width="0.8" fill="none"/>
<circle cx="620.70" cy="44.40" r="1.6" fill="#ff7f0e"/>
<text x="634.70" y="47.25" font-size="7.95" text-anchor="start" font-weight="normal" textLength="20.45" lengthAdjust="spacingAndGlyphs" class="lg">HV07</text>
<g clip-path="url(#cp10)">
<polyline points="42.07,344.58 45.24,329.79 48.41,314.43 51.58,295.10 54.75,283.90 57.93,269.40 61.10,255.80 64.27,247.10 67.44,248.50 70.61,261.90 73.78,286.97 76.95,313.96 80.12,338.05 83.29,356.08 86.46,369.69 89.74,382.10 93.01,392.71 96.29,399.78 99.57,403.36 102.84,404.91 106.12,405.59 109.40,405.91 112.95,406.08 116.50,406.15 120.05,406.18 123.60,406.19 127.31,406.20 131.01,406.20 134.72,406.20 138.42,406.20 142.13,406.20 146.21,406.20 150.29,406.20 154.37,406.20 158.45,406.20 162.54,406.20 167.31,406.20 172.09,406.20 176.86,406.20 181.64,406.20 186.59,406.20 191.54,406.20 196.49,406.20 202.01,406.20 207.53,406.20" fill="none" stroke="#1f77b4" stroke-width="1.5" stroke-linejoin="round"/>
<path d="M42.07 343.30V345.87M40.27 343.30h3.6M40.27 345.87h3.6M45.24 328.26V331.31M43.44 328.26h3.6M43.44 331.31h3.6M48.41 312.66V316.20M46.61 312.66h3.6M46.61 316.20h3.6M51.58 293.02V297.18M49.78 293.02h3.6M49.78 297.18h3.6M54.75 281.64V286.16M52.95 281.64h3.6M52.95 286.16h3.6M57.93 266.91V271.89M56.13 266.91h3.6M56.13 271.89h3.6M61.10 253.09V258.51M59.30 253.09h3.6M59.30 258.51h3.6M64.27 244.25V249.95M62.47 244.25h3.6M62.47 249.95h3.6M67.44 245.68V251.32M65.64 245.68h3.6M65.64 251.32h3.6M70.61 259.29V264.51M68.81 259.29h3.6M68.81 264.51h3.6M73.78 284.76V289.17M71.98 284.76h3.6M71.98 289.17h3.6M76.95 312.18V315.74M75.15 312.18h3.6M75.15 315.74h3.6M80.12 336.66V339.44M78.32 336.66h3.6M78.32 339.44h3.6M83.29 354.98V357.18M81.49 354.98h3.6M81.49 357.18h3.6" fill="none" stroke="#1f77b4" stroke-width="0.8" opacity="0.85"/>
<g fill="#1f77b4"><circle cx="42.07" cy="344.58" r="1.6"/><circle cx="45.24" cy="329.79" r="1.6"/><circle cx="48.41" cy="314.43" r="1.6"/><circle cx="51.58" cy="295.10" r="1.6"/><circle cx="54.75" cy="283.90" r="1.6"/><circle cx="57.93" cy="269.40" r="1.6"/><circle cx="61.10" cy="255.80" r="1.6"/><circle cx="64.27" cy="247.10" r="1.6"/><circle cx="67.44" cy="248.50" r="1.6"/><circle cx="70.61" cy="261.90" r="1.6"/><circle cx="73.78" cy="286.97" r="1.6"/><circle cx="76.95" cy="313.96" r="1.6"/><circle cx="80.12" cy="338.05" r="1.6"/><circle cx="83.29" cy="356.08" r="1.6"/><circle cx="86.46" cy="369.69" r="1.6"/><circle cx="89.74" cy="382.10" r="1.6"/><circle cx="93.01" cy="392.71" r="1.6"/><circle cx="96.29" cy="399.78" r="1.6"/><circle cx="99.57" cy="403.36" r="1.6"/><circle cx="102.84" cy="404.91" r="1.6"/><circle cx="106.12" cy="405.59" r="1.6"/><circle cx="109.40" cy="405.91" r="1.6"/><circle cx="112.95" cy="406.08" r="1.6"/><circle cx="116.50" cy="406.15" r="1.6"/><circle cx="120.05" cy="406.18" r="1.6"/><circle cx="123.60" cy="406.19" r="1.6"/><circle cx="127.31" cy="406.20" r="1.6"/><circle cx="131.01" cy="406.20" r="1.6"/><circle cx="134.72" cy="406.20" r="1.6"/><circle cx="138.42" cy="406.20" r="1.6"/><circle cx="142.13" cy="406.20" r="1.6"/><circle cx="146.21" cy="406.20" r="1.6"/><circle cx="150.29" cy="406.20" r="1.6"/><circle cx="154.37" cy="406.20" r="1.6"/><circle cx="158.45" cy="406.20" r="1.6"/><circle cx="162.54" cy="406.20" r="1.6"/><circle cx="167.31" cy="406.20" r="1.6"/><circle cx="172.09" cy="406.20" r="1.6"/><circle cx="176.86" cy="406.20" r="1.6"/><circle cx="181.64" cy="406.20" r="1.6"/><circle cx="186.59" cy="406.20" r="1.6"/><circle cx="191.54" cy="406.20" r="1.6"/><circle cx="196.49" cy="406.20" r="1.6"/><circle cx="202.01" cy="406.20" r="1.6"/><circle cx="207.53" cy="406.20" r="1.6"/></g>
<polyline points="42.07,308.90 45.24,300.70 48.41,285.50 51.58,276.00 54.75,273.20 57.93,272.40 61.10,279.90 64.27,299.92 67.44,322.14 70.61,343.57 73.78,360.95 76.95,373.68 80.12,382.71 83.29,389.24 86.46,394.08 89.74,397.81 93.01,400.54 96.29,402.49 99.57,403.84 102.84,404.74 106.12,405.32 109.40,405.69 112.95,405.92 116.50,406.06 120.05,406.13 123.60,406.16 127.31,406.18 131.01,406.19 134.72,406.20 138.42,406.20 142.13,406.20 146.21,406.20 150.29,406.20 154.37,406.20 158.45,406.20 162.54,406.20 167.31,406.20 172.09,406.20 176.86,406.20 181.64,406.20 186.59,406.20 191.54,406.20 196.49,406.20 202.01,406.20 207.53,406.20" fill="none" stroke="#ff7f0e" stroke-width="1.5" stroke-linejoin="round"/>
<path d="M42.07 307.04V310.76M40.27 307.04h3.6M40.27 310.76h3.6M45.24 298.71V302.69M43.44 298.71h3.6M43.44 302.69h3.6M48.41 283.27V287.73M46.61 283.27h3.6M46.61 287.73h3.6M51.58 273.62V278.38M49.78 273.62h3.6M49.78 278.38h3.6M54.75 270.77V275.63M52.95 270.77h3.6M52.95 275.63h3.6M57.93 269.96V274.84M56.13 269.96h3.6M56.13 274.84h3.6M61.10 277.58V282.22M59.30 277.58h3.6M59.30 282.22h3.6M64.27 297.92V301.92M62.47 297.92h3.6M62.47 301.92h3.6M67.44 320.49V323.78M65.64 320.49h3.6M65.64 323.78h3.6M70.61 342.27V344.87M68.81 342.27h3.6M68.81 344.87h3.6M73.78 359.92V361.97M71.98 359.92h3.6M71.98 361.97h3.6" fill="none" stroke="#ff7f0e" stroke-width="0.8" opacity="0.85"/>
<g fill="#ff7f0e"><circle cx="42.07" cy="308.90" r="1.6"/><circle cx="45.24" cy="300.70" r="1.6"/><circle cx="48.41" cy="285.50" r="1.6"/><circle cx="51.58" cy="276.00" r="1.6"/><circle cx="54.75" cy="273.20" r="1.6"/><circle cx="57.93" cy="272.40" r="1.6"/><circle cx="61.10" cy="279.90" r="1.6"/><circle cx="64.27" cy="299.92" r="1.6"/><circle cx="67.44" cy="322.14" r="1.6"/><circle cx="70.61" cy="343.57" r="1.6"/><circle cx="73.78" cy="360.95" r="1.6"/><circle cx="76.95" cy="373.68" r="1.6"/><circle cx="80.12" cy="382.71" r="1.6"/><circle cx="83.29" cy="389.24" r="1.6"/><circle cx="86.46" cy="394.08" r="1.6"/><circle cx="89.74" cy="397.81" r="1.6"/><circle cx="93.01" cy="400.54" r="1.6"/><circle cx="96.29" cy="402.49" r="1.6"/><circle cx="99.57" cy="403.84" r="1.6"/><circle cx="102.84" cy="404.74" r="1.6"/><circle cx="106.12" cy="405.32" r="1.6"/><circle cx="109.40" cy="405.69" r="1.6"/><circle cx="112.95" cy="405.92" r="1.6"/><circle cx="116.50" cy="406.06" r="1.6"/><circle cx="120.05" cy="406.13" r="1.6"/><circle cx="123.60" cy="406.16" r="1.6"/><circle cx="127.31" cy="406.18" r="1.6"/><circle cx="131.01" cy="406.19" r="1.6"/><circle cx="134.72" cy="406.20" r="1.6"/><circle cx="138.42" cy="406.20" r="1.6"/><circle cx="142.13" cy="406.20" r="1.6"/><circle cx="146.21" cy="406.20" r="1.6"/><circle cx="150.29" cy="406.20" r="1.6"/><circle cx="154.37" cy="406.20" r="1.6"/><circle cx="158.45" cy="406.20" r="1.6"/><circle cx="162.54" cy="406.20" r="1.6"/><circle cx="167.31" cy="406.20" r="1.6"/><circle cx="172.09" cy="406.20" r="1.6"/><circle cx="176.86" cy="406.20" r="1.6"/><circle cx="181.64" cy="406.20" r="1.6"/><circle cx="186.59" cy="406.20" r="1.6"/><circle cx="191.54" cy="406.20" r="1.6"/><circle cx="196.49" cy="406.20" r="1.6"/><circle cx="202.01" cy="406.20" r="1.6"/><circle cx="207.53" cy="406.20" r="1.6"/></g>
</g>
<line x1="34.00" y1="236.00" x2="34.00" y2="414.50" stroke="rgb(194,194,194)" stroke-width="1.00"/>
<line x1="216.00" y1="236.00" x2="216.00" y2="414.50" stroke="rgb(199,199,199)" stroke-width="1.00"/>
<line x1="33.50" y1="236.50" x2="216.50" y2="236.50" stroke="rgb(232,232,232)" stroke-width="1.00"/>
<line x1="33.50" y1="414.00" x2="216.50" y2="414.00" stroke="rgb(135,135,135)" stroke-width="1.50"/>
<text x="39.99" y="423.10" font-size="8.50" text-anchor="middle" font-weight="normal" textLength="9.69" lengthAdjust="spacingAndGlyphs" fill="#1a1a1a">10</text>
<text x="45.09" y="419.70" font-size="5.60" text-anchor="start" font-weight="normal" fill="#1a1a1a">1</text>
<text x="121.61" y="423.10" font-size="8.50" text-anchor="middle" font-weight="normal" textLength="9.69" lengthAdjust="spacingAndGlyphs" fill="#1a1a1a">10</text>
<text x="126.71" y="419.70" font-size="5.60" text-anchor="start" font-weight="normal" fill="#1a1a1a">2</text>
<text x="203.24" y="423.10" font-size="8.50" text-anchor="middle" font-weight="normal" textLength="9.69" lengthAdjust="spacingAndGlyphs" fill="#1a1a1a">10</text>
<text x="208.34" y="419.70" font-size="5.60" text-anchor="start" font-weight="normal" fill="#1a1a1a">3</text>
<line x1="37.75" y1="413.50" x2="37.75" y2="415.30" stroke="#777" stroke-width="0.7"/><line x1="41.49" y1="413.50" x2="41.49" y2="415.70" stroke="#555" stroke-width="0.8"/><line x1="66.06" y1="413.50" x2="66.06" y2="415.30" stroke="#777" stroke-width="0.7"/><line x1="80.43" y1="413.50" x2="80.43" y2="415.30" stroke="#777" stroke-width="0.7"/><line x1="90.63" y1="413.50" x2="90.63" y2="415.30" stroke="#777" stroke-width="0.7"/><line x1="98.54" y1="413.50" x2="98.54" y2="415.30" stroke="#777" stroke-width="0.7"/><line x1="105.00" y1="413.50" x2="105.00" y2="415.30" stroke="#777" stroke-width="0.7"/><line x1="110.47" y1="413.50" x2="110.47" y2="415.30" stroke="#777" stroke-width="0.7"/><line x1="115.20" y1="413.50" x2="115.20" y2="415.30" stroke="#777" stroke-width="0.7"/><line x1="119.38" y1="413.50" x2="119.38" y2="415.30" stroke="#777" stroke-width="0.7"/><line x1="123.11" y1="413.50" x2="123.11" y2="415.70" stroke="#555" stroke-width="0.8"/><line x1="147.68" y1="413.50" x2="147.68" y2="415.30" stroke="#777" stroke-width="0.7"/><line x1="162.06" y1="413.50" x2="162.06" y2="415.30" stroke="#777" stroke-width="0.7"/><line x1="172.25" y1="413.50" x2="172.25" y2="415.30" stroke="#777" stroke-width="0.7"/><line x1="180.16" y1="413.50" x2="180.16" y2="415.30" stroke="#777" stroke-width="0.7"/><line x1="186.63" y1="413.50" x2="186.63" y2="415.30" stroke="#777" stroke-width="0.7"/><line x1="192.09" y1="413.50" x2="192.09" y2="415.30" stroke="#777" stroke-width="0.7"/><line x1="196.83" y1="413.50" x2="196.83" y2="415.30" stroke="#777" stroke-width="0.7"/><line x1="201.00" y1="413.50" x2="201.00" y2="415.30" stroke="#777" stroke-width="0.7"/><line x1="204.74" y1="413.50" x2="204.74" y2="415.70" stroke="#555" stroke-width="0.8"/>
<line x1="31.50" y1="406.20" x2="33.50" y2="406.20" stroke="#777" stroke-width="0.8"/>
<text x="31.30" y="409.25" font-size="8.50" text-anchor="end" font-weight="normal" textLength="12.49" lengthAdjust="spacingAndGlyphs" fill="#1a1a1a">0.0</text>
<line x1="31.50" y1="386.00" x2="33.50" y2="386.00" stroke="#777" stroke-width="0.8"/>
<text x="31.30" y="389.05" font-size="8.50" text-anchor="end" font-weight="normal" textLength="12.49" lengthAdjust="spacingAndGlyphs" fill="#1a1a1a">0.2</text>
<line x1="31.50" y1="365.80" x2="33.50" y2="365.80" stroke="#777" stroke-width="0.8"/>
<text x="31.30" y="368.85" font-size="8.50" text-anchor="end" font-weight="normal" textLength="12.49" lengthAdjust="spacingAndGlyphs" fill="#1a1a1a">0.4</text>
<line x1="31.50" y1="345.60" x2="33.50" y2="345.60" stroke="#777" stroke-width="0.8"/>
<text x="31.30" y="348.65" font-size="8.50" text-anchor="end" font-weight="normal" textLength="12.49" lengthAdjust="spacingAndGlyphs" fill="#1a1a1a">0.6</text>
<line x1="31.50" y1="325.40" x2="33.50" y2="325.40" stroke="#777" stroke-width="0.8"/>
<text x="31.30" y="328.45" font-size="8.50" text-anchor="end" font-weight="normal" textLength="12.49" lengthAdjust="spacingAndGlyphs" fill="#1a1a1a">0.8</text>
<line x1="31.50" y1="305.20" x2="33.50" y2="305.20" stroke="#777" stroke-width="0.8"/>
<text x="31.30" y="308.25" font-size="8.50" text-anchor="end" font-weight="normal" textLength="12.49" lengthAdjust="spacingAndGlyphs" fill="#1a1a1a">1.0</text>
<line x1="31.50" y1="285.00" x2="33.50" y2="285.00" stroke="#777" stroke-width="0.8"/>
<text x="31.30" y="288.05" font-size="8.50" text-anchor="end" font-weight="normal" textLength="12.49" lengthAdjust="spacingAndGlyphs" fill="#1a1a1a">1.2</text>
<line x1="31.50" y1="264.80" x2="33.50" y2="264.80" stroke="#777" stroke-width="0.8"/>
<text x="31.30" y="267.85" font-size="8.50" text-anchor="end" font-weight="normal" textLength="12.49" lengthAdjust="spacingAndGlyphs" fill="#1a1a1a">1.4</text>
<line x1="31.50" y1="244.60" x2="33.50" y2="244.60" stroke="#777" stroke-width="0.8"/>
<text x="31.30" y="247.65" font-size="8.50" text-anchor="end" font-weight="normal" textLength="12.49" lengthAdjust="spacingAndGlyphs" fill="#1a1a1a">1.6</text>
<text x="34.40" y="235.60" font-size="9.18" text-anchor="start" font-weight="normal" textLength="15.59" lengthAdjust="spacingAndGlyphs" fill="#1a1a1a">1e6</text>
<text x="124.50" y="434.70" font-size="11.00" text-anchor="middle" font-weight="bold" textLength="62.30" lengthAdjust="spacingAndGlyphs" fill="#000">Size (nm)</text>
<g transform="translate(11.20,325.00) rotate(-90)" fill="#000"><text x="-59.00" y="0.00" font-size="11.40" font-weight="bold" textLength="35.90" lengthAdjust="spacingAndGlyphs">(dN/d</text><text x="-22.90" y="0.00" font-size="11.40" font-weight="normal" textLength="18.30" lengthAdjust="spacingAndGlyphs">log</text><text x="-3.00" y="0.00" font-size="11.40" font-weight="bold" textLength="9.00" lengthAdjust="spacingAndGlyphs">D</text><text x="6.90" y="2.00" font-size="8.20" font-weight="bold" textLength="5.40" lengthAdjust="spacingAndGlyphs">p</text><text x="13.40" y="0.00" font-size="11.40" font-weight="bold" textLength="3.80" lengthAdjust="spacingAndGlyphs">,</text><text x="21.20" y="0.00" font-size="11.40" font-weight="bold" textLength="18.90" lengthAdjust="spacingAndGlyphs">cm</text><text x="41.00" y="-5.20" font-size="8.60" font-weight="normal" textLength="12.20" lengthAdjust="spacingAndGlyphs">−3</text><text x="52.90" y="0.00" font-size="11.40" font-weight="bold" textLength="6.00" lengthAdjust="spacingAndGlyphs">)</text></g>
<rect x="163.20" y="240.30" width="48.50" height="24.10" rx="2" fill="#fff" fill-opacity="0.8" stroke="#d8d8d8" stroke-width="0.8"/>
<line x1="165.20" y1="246.30" x2="182.20" y2="246.30" stroke="#1f77b4" stroke-width="1.5"/>
<path d="M173.70 242.30V250.30M172.00 242.30h3.4M172.00 250.30h3.4" stroke="#1f77b4" stroke-width="0.8" fill="none"/>
<circle cx="173.70" cy="246.30" r="1.6" fill="#1f77b4"/>
<text x="187.70" y="249.15" font-size="7.95" text-anchor="start" font-weight="normal" textLength="9.98" lengthAdjust="spacingAndGlyphs" class="lg">B0</text>
<line x1="165.20" y1="257.40" x2="182.20" y2="257.40" stroke="#ff7f0e" stroke-width="1.5"/>
<path d="M173.70 253.40V261.40M172.00 253.40h3.4M172.00 261.40h3.4" stroke="#ff7f0e" stroke-width="0.8" fill="none"/>
<circle cx="173.70" cy="257.40" r="1.6" fill="#ff7f0e"/>
<text x="187.70" y="260.25" font-size="7.95" text-anchor="start" font-weight="normal" textLength="20.45" lengthAdjust="spacingAndGlyphs" class="lg">HV07</text>
<g clip-path="url(#cp11)">
<polyline points="265.27,405.97 268.44,405.78 271.61,405.46 274.78,404.93 277.95,404.10 281.13,402.85 284.30,401.02 287.47,398.45 290.64,394.95 293.81,390.37 296.98,384.57 300.15,377.45 303.32,368.93 306.49,358.98 309.66,347.30 312.94,332.52 316.21,315.25 319.49,299.90 322.77,285.30 326.04,274.30 329.32,262.00 332.60,252.40 336.15,247.20 339.70,249.20 343.25,260.60 346.80,276.10 350.51,295.30 354.21,319.21 357.92,341.63 361.62,361.24 365.33,376.86 369.41,389.20 373.49,397.11 377.57,401.71 381.65,404.15 385.74,405.34 390.51,405.92 395.29,406.12 400.06,406.18 404.84,406.19 409.79,406.20 414.74,406.20 419.69,406.20 425.21,406.20 430.73,406.20" fill="none" stroke="#1f77b4" stroke-width="1.5" stroke-linejoin="round"/>
<path d="M306.49 357.92V360.03M304.69 357.92h3.6M304.69 360.03h3.6M309.66 346.06V348.54M307.86 346.06h3.6M307.86 348.54h3.6M312.94 331.05V334.00M311.14 331.05h3.6M311.14 334.00h3.6M316.21 313.49V317.00M314.41 313.49h3.6M314.41 317.00h3.6M319.49 297.90V301.90M317.69 297.90h3.6M317.69 301.90h3.6M322.77 283.07V287.53M320.97 283.07h3.6M320.97 287.53h3.6M326.04 271.89V276.71M324.24 271.89h3.6M324.24 276.71h3.6M329.32 259.39V264.61M327.52 259.39h3.6M327.52 264.61h3.6M332.60 249.64V255.16M330.80 249.64h3.6M330.80 255.16h3.6M336.15 244.36V250.04M334.35 244.36h3.6M334.35 250.04h3.6M339.70 246.39V252.01M337.90 246.39h3.6M337.90 252.01h3.6M343.25 257.97V263.23M341.45 257.97h3.6M341.45 263.23h3.6M346.80 273.72V278.48M345.00 273.72h3.6M345.00 278.48h3.6M350.51 293.23V297.37M348.71 293.23h3.6M348.71 297.37h3.6M354.21 317.52V320.91M352.41 317.52h3.6M352.41 320.91h3.6M357.92 340.30V342.97M356.12 340.30h3.6M356.12 342.97h3.6M361.62 360.22V362.26M359.82 360.22h3.6M359.82 362.26h3.6" fill="none" stroke="#1f77b4" stroke-width="0.8" opacity="0.85"/>
<g fill="#1f77b4"><circle cx="265.27" cy="405.97" r="1.6"/><circle cx="268.44" cy="405.78" r="1.6"/><circle cx="271.61" cy="405.46" r="1.6"/><circle cx="274.78" cy="404.93" r="1.6"/><circle cx="277.95" cy="404.10" r="1.6"/><circle cx="281.13" cy="402.85" r="1.6"/><circle cx="284.30" cy="401.02" r="1.6"/><circle cx="287.47" cy="398.45" r="1.6"/><circle cx="290.64" cy="394.95" r="1.6"/><circle cx="293.81" cy="390.37" r="1.6"/><circle cx="296.98" cy="384.57" r="1.6"/><circle cx="300.15" cy="377.45" r="1.6"/><circle cx="303.32" cy="368.93" r="1.6"/><circle cx="306.49" cy="358.98" r="1.6"/><circle cx="309.66" cy="347.30" r="1.6"/><circle cx="312.94" cy="332.52" r="1.6"/><circle cx="316.21" cy="315.25" r="1.6"/><circle cx="319.49" cy="299.90" r="1.6"/><circle cx="322.77" cy="285.30" r="1.6"/><circle cx="326.04" cy="274.30" r="1.6"/><circle cx="329.32" cy="262.00" r="1.6"/><circle cx="332.60" cy="252.40" r="1.6"/><circle cx="336.15" cy="247.20" r="1.6"/><circle cx="339.70" cy="249.20" r="1.6"/><circle cx="343.25" cy="260.60" r="1.6"/><circle cx="346.80" cy="276.10" r="1.6"/><circle cx="350.51" cy="295.30" r="1.6"/><circle cx="354.21" cy="319.21" r="1.6"/><circle cx="357.92" cy="341.63" r="1.6"/><circle cx="361.62" cy="361.24" r="1.6"/><circle cx="365.33" cy="376.86" r="1.6"/><circle cx="369.41" cy="389.20" r="1.6"/><circle cx="373.49" cy="397.11" r="1.6"/><circle cx="377.57" cy="401.71" r="1.6"/><circle cx="381.65" cy="404.15" r="1.6"/><circle cx="385.74" cy="405.34" r="1.6"/><circle cx="390.51" cy="405.92" r="1.6"/><circle cx="395.29" cy="406.12" r="1.6"/><circle cx="400.06" cy="406.18" r="1.6"/><circle cx="404.84" cy="406.19" r="1.6"/><circle cx="409.79" cy="406.20" r="1.6"/><circle cx="414.74" cy="406.20" r="1.6"/><circle cx="419.69" cy="406.20" r="1.6"/><circle cx="425.21" cy="406.20" r="1.6"/><circle cx="430.73" cy="406.20" r="1.6"/></g>
<polyline points="265.27,406.14 268.44,406.07 271.61,405.94 274.78,405.70 277.95,405.27 281.13,404.55 284.30,403.40 287.47,401.63 290.64,399.06 293.81,395.48 296.98,390.76 300.15,384.80 303.32,377.61 306.49,369.25 309.66,359.72 312.94,348.24 316.21,334.35 319.49,317.82 322.77,299.00 326.04,288.00 329.32,280.80 332.60,277.80 336.15,279.80 339.70,284.90 343.25,294.40 346.80,306.30 350.51,324.65 354.21,343.92 357.92,362.10 361.62,377.30 365.33,388.70 369.41,397.01 373.49,401.83 377.57,404.32 381.65,405.46 385.74,405.94 390.51,406.13 395.29,406.18 400.06,406.20 404.84,406.20 409.79,406.20 414.74,406.20 419.69,406.20 425.21,406.20 430.73,406.20" fill="none" stroke="#ff7f0e" stroke-width="1.5" stroke-linejoin="round"/>
<path d="M309.66 358.67V360.76M307.86 358.67h3.6M307.86 360.76h3.6M312.94 347.02V349.47M311.14 347.02h3.6M311.14 349.47h3.6M316.21 332.90V335.79M314.41 332.90h3.6M314.41 335.79h3.6M319.49 316.10V319.53M317.69 316.10h3.6M317.69 319.53h3.6M322.77 296.98V301.02M320.97 296.98h3.6M320.97 301.02h3.6M326.04 285.81V290.19M324.24 285.81h3.6M324.24 290.19h3.6M329.32 278.49V283.11M327.52 278.49h3.6M327.52 283.11h3.6M332.60 275.45V280.15M330.80 275.45h3.6M330.80 280.15h3.6M336.15 277.48V282.12M334.35 277.48h3.6M334.35 282.12h3.6M339.70 282.66V287.14M337.90 282.66h3.6M337.90 287.14h3.6M343.25 292.31V296.49M341.45 292.31h3.6M341.45 296.49h3.6M346.80 304.40V308.20M345.00 304.40h3.6M345.00 308.20h3.6M350.51 323.05V326.26M348.71 323.05h3.6M348.71 326.26h3.6M354.21 342.62V345.22M352.41 342.62h3.6M352.41 345.22h3.6M357.92 361.09V363.10M356.12 361.09h3.6M356.12 363.10h3.6" fill="none" stroke="#ff7f0e" stroke-width="0.8" opacity="0.85"/>
<g fill="#ff7f0e"><circle cx="265.27" cy="406.14" r="1.6"/><circle cx="268.44" cy="406.07" r="1.6"/><circle cx="271.61" cy="405.94" r="1.6"/><circle cx="274.78" cy="405.70" r="1.6"/><circle cx="277.95" cy="405.27" r="1.6"/><circle cx="281.13" cy="404.55" r="1.6"/><circle cx="284.30" cy="403.40" r="1.6"/><circle cx="287.47" cy="401.63" r="1.6"/><circle cx="290.64" cy="399.06" r="1.6"/><circle cx="293.81" cy="395.48" r="1.6"/><circle cx="296.98" cy="390.76" r="1.6"/><circle cx="300.15" cy="384.80" r="1.6"/><circle cx="303.32" cy="377.61" r="1.6"/><circle cx="306.49" cy="369.25" r="1.6"/><circle cx="309.66" cy="359.72" r="1.6"/><circle cx="312.94" cy="348.24" r="1.6"/><circle cx="316.21" cy="334.35" r="1.6"/><circle cx="319.49" cy="317.82" r="1.6"/><circle cx="322.77" cy="299.00" r="1.6"/><circle cx="326.04" cy="288.00" r="1.6"/><circle cx="329.32" cy="280.80" r="1.6"/><circle cx="332.60" cy="277.80" r="1.6"/><circle cx="336.15" cy="279.80" r="1.6"/><circle cx="339.70" cy="284.90" r="1.6"/><circle cx="343.25" cy="294.40" r="1.6"/><circle cx="346.80" cy="306.30" r="1.6"/><circle cx="350.51" cy="324.65" r="1.6"/><circle cx="354.21" cy="343.92" r="1.6"/><circle cx="357.92" cy="362.10" r="1.6"/><circle cx="361.62" cy="377.30" r="1.6"/><circle cx="365.33" cy="388.70" r="1.6"/><circle cx="369.41" cy="397.01" r="1.6"/><circle cx="373.49" cy="401.83" r="1.6"/><circle cx="377.57" cy="404.32" r="1.6"/><circle cx="381.65" cy="405.46" r="1.6"/><circle cx="385.74" cy="405.94" r="1.6"/><circle cx="390.51" cy="406.13" r="1.6"/><circle cx="395.29" cy="406.18" r="1.6"/><circle cx="400.06" cy="406.20" r="1.6"/><circle cx="404.84" cy="406.20" r="1.6"/><circle cx="409.79" cy="406.20" r="1.6"/><circle cx="414.74" cy="406.20" r="1.6"/><circle cx="419.69" cy="406.20" r="1.6"/><circle cx="425.21" cy="406.20" r="1.6"/><circle cx="430.73" cy="406.20" r="1.6"/></g>
</g>
<line x1="258.00" y1="236.00" x2="258.00" y2="414.50" stroke="rgb(218,218,218)" stroke-width="1.00"/>
<line x1="439.50" y1="236.00" x2="439.50" y2="414.50" stroke="rgb(136,136,136)" stroke-width="1.00"/>
<line x1="257.50" y1="236.50" x2="440.00" y2="236.50" stroke="rgb(232,232,232)" stroke-width="1.00"/>
<line x1="257.50" y1="414.00" x2="440.00" y2="414.00" stroke="rgb(135,135,135)" stroke-width="1.50"/>
<text x="263.19" y="423.10" font-size="8.50" text-anchor="middle" font-weight="normal" textLength="9.69" lengthAdjust="spacingAndGlyphs" fill="#1a1a1a">10</text>
<text x="268.29" y="419.70" font-size="5.60" text-anchor="start" font-weight="normal" fill="#1a1a1a">1</text>
<text x="344.81" y="423.10" font-size="8.50" text-anchor="middle" font-weight="normal" textLength="9.69" lengthAdjust="spacingAndGlyphs" fill="#1a1a1a">10</text>
<text x="349.91" y="419.70" font-size="5.60" text-anchor="start" font-weight="normal" fill="#1a1a1a">2</text>
<text x="426.44" y="423.10" font-size="8.50" text-anchor="middle" font-weight="normal" textLength="9.69" lengthAdjust="spacingAndGlyphs" fill="#1a1a1a">10</text>
<text x="431.54" y="419.70" font-size="5.60" text-anchor="start" font-weight="normal" fill="#1a1a1a">3</text>
<line x1="260.95" y1="413.50" x2="260.95" y2="415.30" stroke="#777" stroke-width="0.7"/><line x1="264.69" y1="413.50" x2="264.69" y2="415.70" stroke="#555" stroke-width="0.8"/><line x1="289.26" y1="413.50" x2="289.26" y2="415.30" stroke="#777" stroke-width="0.7"/><line x1="303.63" y1="413.50" x2="303.63" y2="415.30" stroke="#777" stroke-width="0.7"/><line x1="313.83" y1="413.50" x2="313.83" y2="415.30" stroke="#777" stroke-width="0.7"/><line x1="321.74" y1="413.50" x2="321.74" y2="415.30" stroke="#777" stroke-width="0.7"/><line x1="328.20" y1="413.50" x2="328.20" y2="415.30" stroke="#777" stroke-width="0.7"/><line x1="333.67" y1="413.50" x2="333.67" y2="415.30" stroke="#777" stroke-width="0.7"/><line x1="338.40" y1="413.50" x2="338.40" y2="415.30" stroke="#777" stroke-width="0.7"/><line x1="342.58" y1="413.50" x2="342.58" y2="415.30" stroke="#777" stroke-width="0.7"/><line x1="346.31" y1="413.50" x2="346.31" y2="415.70" stroke="#555" stroke-width="0.8"/><line x1="370.88" y1="413.50" x2="370.88" y2="415.30" stroke="#777" stroke-width="0.7"/><line x1="385.26" y1="413.50" x2="385.26" y2="415.30" stroke="#777" stroke-width="0.7"/><line x1="395.45" y1="413.50" x2="395.45" y2="415.30" stroke="#777" stroke-width="0.7"/><line x1="403.36" y1="413.50" x2="403.36" y2="415.30" stroke="#777" stroke-width="0.7"/><line x1="409.83" y1="413.50" x2="409.83" y2="415.30" stroke="#777" stroke-width="0.7"/><line x1="415.29" y1="413.50" x2="415.29" y2="415.30" stroke="#777" stroke-width="0.7"/><line x1="420.03" y1="413.50" x2="420.03" y2="415.30" stroke="#777" stroke-width="0.7"/><line x1="424.20" y1="413.50" x2="424.20" y2="415.30" stroke="#777" stroke-width="0.7"/><line x1="427.94" y1="413.50" x2="427.94" y2="415.70" stroke="#555" stroke-width="0.8"/>
<line x1="255.50" y1="406.20" x2="257.50" y2="406.20" stroke="#777" stroke-width="0.8"/>
<text x="254.60" y="409.25" font-size="8.50" text-anchor="end" font-weight="normal" textLength="12.49" lengthAdjust="spacingAndGlyphs" fill="#1a1a1a">0.0</text>
<line x1="255.50" y1="367.27" x2="257.50" y2="367.27" stroke="#777" stroke-width="0.8"/>
<text x="254.60" y="370.32" font-size="8.50" text-anchor="end" font-weight="normal" textLength="12.49" lengthAdjust="spacingAndGlyphs" fill="#1a1a1a">0.5</text>
<line x1="255.50" y1="328.35" x2="257.50" y2="328.35" stroke="#777" stroke-width="0.8"/>
<text x="254.60" y="331.40" font-size="8.50" text-anchor="end" font-weight="normal" textLength="12.49" lengthAdjust="spacingAndGlyphs" fill="#1a1a1a">1.0</text>
<line x1="255.50" y1="289.43" x2="257.50" y2="289.43" stroke="#777" stroke-width="0.8"/>
<text x="254.60" y="292.48" font-size="8.50" text-anchor="end" font-weight="normal" textLength="12.49" lengthAdjust="spacingAndGlyphs" fill="#1a1a1a">1.5</text>
<line x1="255.50" y1="250.50" x2="257.50" y2="250.50" stroke="#777" stroke-width="0.8"/>
<text x="254.60" y="253.55" font-size="8.50" text-anchor="end" font-weight="normal" textLength="12.49" lengthAdjust="spacingAndGlyphs" fill="#1a1a1a">2.0</text>
<text x="258.40" y="235.60" font-size="9.18" text-anchor="start" font-weight="normal" textLength="15.59" lengthAdjust="spacingAndGlyphs" fill="#1a1a1a">1e6</text>
<text x="348.50" y="434.70" font-size="11.00" text-anchor="middle" font-weight="bold" textLength="62.30" lengthAdjust="spacingAndGlyphs" fill="#000">Size (nm)</text>
<g transform="translate(234.20,325.00) rotate(-90)" fill="#000"><text x="-59.00" y="0.00" font-size="11.40" font-weight="bold" textLength="35.90" lengthAdjust="spacingAndGlyphs">(dN/d</text><text x="-22.90" y="0.00" font-size="11.40" font-weight="normal" textLength="18.30" lengthAdjust="spacingAndGlyphs">log</text><text x="-3.00" y="0.00" font-size="11.40" font-weight="bold" textLength="9.00" lengthAdjust="spacingAndGlyphs">D</text><text x="6.90" y="2.00" font-size="8.20" font-weight="bold" textLength="5.40" lengthAdjust="spacingAndGlyphs">p</text><text x="13.40" y="0.00" font-size="11.40" font-weight="bold" textLength="3.80" lengthAdjust="spacingAndGlyphs">,</text><text x="21.20" y="0.00" font-size="11.40" font-weight="bold" textLength="18.90" lengthAdjust="spacingAndGlyphs">cm</text><text x="41.00" y="-5.20" font-size="8.60" font-weight="normal" textLength="12.20" lengthAdjust="spacingAndGlyphs">−3</text><text x="52.90" y="0.00" font-size="11.40" font-weight="bold" textLength="6.00" lengthAdjust="spacingAndGlyphs">)</text></g>
<rect x="387.20" y="240.30" width="48.50" height="24.10" rx="2" fill="#fff" fill-opacity="0.8" stroke="#d8d8d8" stroke-width="0.8"/>
<line x1="389.20" y1="246.30" x2="406.20" y2="246.30" stroke="#1f77b4" stroke-width="1.5"/>
<path d="M397.70 242.30V250.30M396.00 242.30h3.4M396.00 250.30h3.4" stroke="#1f77b4" stroke-width="0.8" fill="none"/>
<circle cx="397.70" cy="246.30" r="1.6" fill="#1f77b4"/>
<text x="411.70" y="249.15" font-size="7.95" text-anchor="start" font-weight="normal" textLength="9.98" lengthAdjust="spacingAndGlyphs" class="lg">B0</text>
<line x1="389.20" y1="257.40" x2="406.20" y2="257.40" stroke="#ff7f0e" stroke-width="1.5"/>
<path d="M397.70 253.40V261.40M396.00 253.40h3.4M396.00 261.40h3.4" stroke="#ff7f0e" stroke-width="0.8" fill="none"/>
<circle cx="397.70" cy="257.40" r="1.6" fill="#ff7f0e"/>
<text x="411.70" y="260.25" font-size="7.95" text-anchor="start" font-weight="normal" textLength="20.45" lengthAdjust="spacingAndGlyphs" class="lg">HV07</text>
<g clip-path="url(#cp12)">
<polyline points="489.03,405.98 492.18,405.79 495.33,405.48 498.49,404.97 501.64,404.15 504.79,402.90 507.95,401.03 511.10,398.36 514.25,394.66 517.41,389.71 520.56,383.34 523.71,375.45 526.86,366.04 530.02,355.28 533.17,343.49 536.43,330.73 539.69,318.04 542.95,306.14 546.21,294.60 549.46,287.80 552.72,280.90 555.98,274.80 559.51,273.70 563.04,275.20 566.58,279.60 570.11,289.60 573.79,298.70 577.48,311.81 581.16,323.55 584.85,335.68 588.53,347.86 592.59,360.72 596.65,372.35 600.71,382.23 604.77,390.10 608.83,395.96 613.58,400.59 618.33,403.37 623.07,404.88 627.82,405.63 632.75,405.98 637.67,406.12 642.60,406.18 648.09,406.19 653.57,406.20" fill="none" stroke="#1f77b4" stroke-width="1.5" stroke-linejoin="round"/>
<path d="M526.86 365.10V366.98M525.06 365.10h3.6M525.06 366.98h3.6M530.02 354.17V356.40M528.22 354.17h3.6M528.22 356.40h3.6M533.17 342.19V344.79M531.37 342.19h3.6M531.37 344.79h3.6M536.43 329.22V332.24M534.63 329.22h3.6M534.63 332.24h3.6M539.69 316.33V319.75M537.89 316.33h3.6M537.89 319.75h3.6M542.95 304.24V308.05M541.15 304.24h3.6M541.15 308.05h3.6M546.21 292.51V296.69M544.41 292.51h3.6M544.41 296.69h3.6M549.46 285.61V289.99M547.66 285.61h3.6M547.66 289.99h3.6M552.72 278.60V283.20M550.92 278.60h3.6M550.92 283.20h3.6M555.98 272.40V277.20M554.18 272.40h3.6M554.18 277.20h3.6M559.51 271.28V276.12M557.71 271.28h3.6M557.71 276.12h3.6M563.04 272.80V277.60M561.24 272.80h3.6M561.24 277.60h3.6M566.58 277.27V281.93M564.78 277.27h3.6M564.78 281.93h3.6M570.11 287.43V291.77M568.31 287.43h3.6M568.31 291.77h3.6M573.79 296.68V300.72M571.99 296.68h3.6M571.99 300.72h3.6M577.48 310.00V313.62M575.68 310.00h3.6M575.68 313.62h3.6M581.16 321.93V325.17M579.36 321.93h3.6M579.36 325.17h3.6M584.85 334.25V337.11M583.05 334.25h3.6M583.05 337.11h3.6M588.53 346.63V349.10M586.73 346.63h3.6M586.73 349.10h3.6M592.59 359.70V361.75M590.79 359.70h3.6M590.79 361.75h3.6" fill="none" stroke="#1f77b4" stroke-width="0.8" opacity="0.85"/>
<g fill="#1f77b4"><circle cx="489.03" cy="405.98" r="1.6"/><circle cx="492.18" cy="405.79" r="1.6"/><circle cx="495.33" cy="405.48" r="1.6"/><circle cx="498.49" cy="404.97" r="1.6"/><circle cx="501.64" cy="404.15" r="1.6"/><circle cx="504.79" cy="402.90" r="1.6"/><circle cx="507.95" cy="401.03" r="1.6"/><circle cx="511.10" cy="398.36" r="1.6"/><circle cx="514.25" cy="394.66" r="1.6"/><circle cx="517.41" cy="389.71" r="1.6"/><circle cx="520.56" cy="383.34" r="1.6"/><circle cx="523.71" cy="375.45" r="1.6"/><circle cx="526.86" cy="366.04" r="1.6"/><circle cx="530.02" cy="355.28" r="1.6"/><circle cx="533.17" cy="343.49" r="1.6"/><circle cx="536.43" cy="330.73" r="1.6"/><circle cx="539.69" cy="318.04" r="1.6"/><circle cx="542.95" cy="306.14" r="1.6"/><circle cx="546.21" cy="294.60" r="1.6"/><circle cx="549.46" cy="287.80" r="1.6"/><circle cx="552.72" cy="280.90" r="1.6"/><circle cx="555.98" cy="274.80" r="1.6"/><circle cx="559.51" cy="273.70" r="1.6"/><circle cx="563.04" cy="275.20" r="1.6"/><circle cx="566.58" cy="279.60" r="1.6"/><circle cx="570.11" cy="289.60" r="1.6"/><circle cx="573.79" cy="298.70" r="1.6"/><circle cx="577.48" cy="311.81" r="1.6"/><circle cx="581.16" cy="323.55" r="1.6"/><circle cx="584.85" cy="335.68" r="1.6"/><circle cx="588.53" cy="347.86" r="1.6"/><circle cx="592.59" cy="360.72" r="1.6"/><circle cx="596.65" cy="372.35" r="1.6"/><circle cx="600.71" cy="382.23" r="1.6"/><circle cx="604.77" cy="390.10" r="1.6"/><circle cx="608.83" cy="395.96" r="1.6"/><circle cx="613.58" cy="400.59" r="1.6"/><circle cx="618.33" cy="403.37" r="1.6"/><circle cx="623.07" cy="404.88" r="1.6"/><circle cx="627.82" cy="405.63" r="1.6"/><circle cx="632.75" cy="405.98" r="1.6"/><circle cx="637.67" cy="406.12" r="1.6"/><circle cx="642.60" cy="406.18" r="1.6"/><circle cx="648.09" cy="406.19" r="1.6"/><circle cx="653.57" cy="406.20" r="1.6"/></g>
<polyline points="489.03,405.74 492.18,405.43 495.33,404.95 498.49,404.20 501.64,403.09 504.79,401.47 507.95,399.16 511.10,395.93 514.25,391.44 517.41,385.29 520.56,376.97 523.71,366.04 526.86,352.41 530.02,336.61 533.17,319.92 536.43,303.41 539.69,286.90 542.95,275.90 546.21,268.60 549.46,261.50 552.72,254.70 555.98,248.50 559.51,246.90 563.04,249.40 566.58,255.60 570.11,268.30 573.79,284.10 577.48,298.27 581.16,314.51 584.85,329.84 588.53,343.82 592.59,357.92 596.65,370.91 600.71,382.21 604.77,390.95 608.83,396.94 613.58,401.21 618.33,403.60 623.07,404.90 627.82,405.58 632.75,405.93 637.67,406.09 642.60,406.16 648.09,406.19 653.57,406.20" fill="none" stroke="#ff7f0e" stroke-width="1.5" stroke-linejoin="round"/>
<path d="M523.71 365.10V366.98M521.91 365.10h3.6M521.91 366.98h3.6M526.86 351.24V353.57M525.06 351.24h3.6M525.06 353.57h3.6M530.02 335.20V338.03M528.22 335.20h3.6M528.22 338.03h3.6M533.17 318.24V321.60M531.37 318.24h3.6M531.37 321.60h3.6M536.43 301.46V305.35M534.63 301.46h3.6M534.63 305.35h3.6M539.69 284.69V289.11M537.89 284.69h3.6M537.89 289.11h3.6M542.95 273.52V278.28M541.15 273.52h3.6M541.15 278.28h3.6M546.21 266.10V271.10M544.41 266.10h3.6M544.41 271.10h3.6M549.46 258.88V264.12M547.66 258.88h3.6M547.66 264.12h3.6M552.72 251.98V257.42M550.92 251.98h3.6M550.92 257.42h3.6M555.98 245.68V251.32M554.18 245.68h3.6M554.18 251.32h3.6M559.51 244.05V249.75M557.71 244.05h3.6M557.71 249.75h3.6M563.04 246.59V252.21M561.24 246.59h3.6M561.24 252.21h3.6M566.58 252.89V258.31M564.78 252.89h3.6M564.78 258.31h3.6M570.11 265.79V270.81M568.31 265.79h3.6M568.31 270.81h3.6M573.79 281.85V286.35M571.99 281.85h3.6M571.99 286.35h3.6M577.48 296.24V300.30M575.68 296.24h3.6M575.68 300.30h3.6M581.16 312.74V316.27M579.36 312.74h3.6M579.36 316.27h3.6M584.85 328.32V331.36M583.05 328.32h3.6M583.05 331.36h3.6M588.53 342.52V345.12M586.73 342.52h3.6M586.73 345.12h3.6M592.59 356.85V358.99M590.79 356.85h3.6M590.79 358.99h3.6" fill="none" stroke="#ff7f0e" stroke-width="0.8" opacity="0.85"/>
<g fill="#ff7f0e"><circle cx="489.03" cy="405.74" r="1.6"/><circle cx="492.18" cy="405.43" r="1.6"/><circle cx="495.33" cy="404.95" r="1.6"/><circle cx="498.49" cy="404.20" r="1.6"/><circle cx="501.64" cy="403.09" r="1.6"/><circle cx="504.79" cy="401.47" r="1.6"/><circle cx="507.95" cy="399.16" r="1.6"/><circle cx="511.10" cy="395.93" r="1.6"/><circle cx="514.25" cy="391.44" r="1.6"/><circle cx="517.41" cy="385.29" r="1.6"/><circle cx="520.56" cy="376.97" r="1.6"/><circle cx="523.71" cy="366.04" r="1.6"/><circle cx="526.86" cy="352.41" r="1.6"/><circle cx="530.02" cy="336.61" r="1.6"/><circle cx="533.17" cy="319.92" r="1.6"/><circle cx="536.43" cy="303.41" r="1.6"/><circle cx="539.69" cy="286.90" r="1.6"/><circle cx="542.95" cy="275.90" r="1.6"/><circle cx="546.21" cy="268.60" r="1.6"/><circle cx="549.46" cy="261.50" r="1.6"/><circle cx="552.72" cy="254.70" r="1.6"/><circle cx="555.98" cy="248.50" r="1.6"/><circle cx="559.51" cy="246.90" r="1.6"/><circle cx="563.04" cy="249.40" r="1.6"/><circle cx="566.58" cy="255.60" r="1.6"/><circle cx="570.11" cy="268.30" r="1.6"/><circle cx="573.79" cy="284.10" r="1.6"/><circle cx="577.48" cy="298.27" r="1.6"/><circle cx="581.16" cy="314.51" r="1.6"/><circle cx="584.85" cy="329.84" r="1.6"/><circle cx="588.53" cy="343.82" r="1.6"/><circle cx="592.59" cy="357.92" r="1.6"/><circle cx="596.65" cy="370.91" r="1.6"/><circle cx="600.71" cy="382.21" r="1.6"/><circle cx="604.77" cy="390.95" r="1.6"/><circle cx="608.83" cy="396.94" r="1.6"/><circle cx="613.58" cy="401.21" r="1.6"/><circle cx="618.33" cy="403.60" r="1.6"/><circle cx="623.07" cy="404.90" r="1.6"/><circle cx="627.82" cy="405.58" r="1.6"/><circle cx="632.75" cy="405.93" r="1.6"/><circle cx="637.67" cy="406.09" r="1.6"/><circle cx="642.60" cy="406.16" r="1.6"/><circle cx="648.09" cy="406.19" r="1.6"/><circle cx="653.57" cy="406.20" r="1.6"/></g>
</g>
<line x1="481.50" y1="236.00" x2="481.50" y2="414.50" stroke="rgb(176,176,176)" stroke-width="1.00"/>
<line x1="662.50" y1="236.00" x2="662.50" y2="414.50" stroke="rgb(97,97,97)" stroke-width="1.00"/>
<line x1="481.00" y1="236.50" x2="663.00" y2="236.50" stroke="rgb(232,232,232)" stroke-width="1.00"/>
<line x1="481.00" y1="414.00" x2="663.00" y2="414.00" stroke="rgb(135,135,135)" stroke-width="1.50"/>
<text x="486.94" y="423.10" font-size="8.50" text-anchor="middle" font-weight="normal" textLength="9.69" lengthAdjust="spacingAndGlyphs" fill="#1a1a1a">10</text>
<text x="492.04" y="419.70" font-size="5.60" text-anchor="start" font-weight="normal" fill="#1a1a1a">1</text>
<text x="568.12" y="423.10" font-size="8.50" text-anchor="middle" font-weight="normal" textLength="9.69" lengthAdjust="spacingAndGlyphs" fill="#1a1a1a">10</text>
<text x="573.22" y="419.70" font-size="5.60" text-anchor="start" font-weight="normal" fill="#1a1a1a">2</text>
<text x="649.30" y="423.10" font-size="8.50" text-anchor="middle" font-weight="normal" textLength="9.69" lengthAdjust="spacingAndGlyphs" fill="#1a1a1a">10</text>
<text x="654.40" y="419.70" font-size="5.60" text-anchor="start" font-weight="normal" fill="#1a1a1a">3</text>
<line x1="484.73" y1="413.50" x2="484.73" y2="415.30" stroke="#777" stroke-width="0.7"/><line x1="488.44" y1="413.50" x2="488.44" y2="415.70" stroke="#555" stroke-width="0.8"/><line x1="512.88" y1="413.50" x2="512.88" y2="415.30" stroke="#777" stroke-width="0.7"/><line x1="527.17" y1="413.50" x2="527.17" y2="415.30" stroke="#777" stroke-width="0.7"/><line x1="537.32" y1="413.50" x2="537.32" y2="415.30" stroke="#777" stroke-width="0.7"/><line x1="545.18" y1="413.50" x2="545.18" y2="415.30" stroke="#777" stroke-width="0.7"/><line x1="551.61" y1="413.50" x2="551.61" y2="415.30" stroke="#777" stroke-width="0.7"/><line x1="557.05" y1="413.50" x2="557.05" y2="415.30" stroke="#777" stroke-width="0.7"/><line x1="561.75" y1="413.50" x2="561.75" y2="415.30" stroke="#777" stroke-width="0.7"/><line x1="565.91" y1="413.50" x2="565.91" y2="415.30" stroke="#777" stroke-width="0.7"/><line x1="569.62" y1="413.50" x2="569.62" y2="415.70" stroke="#555" stroke-width="0.8"/><line x1="594.06" y1="413.50" x2="594.06" y2="415.30" stroke="#777" stroke-width="0.7"/><line x1="608.35" y1="413.50" x2="608.35" y2="415.30" stroke="#777" stroke-width="0.7"/><line x1="618.49" y1="413.50" x2="618.49" y2="415.30" stroke="#777" stroke-width="0.7"/><line x1="626.36" y1="413.50" x2="626.36" y2="415.30" stroke="#777" stroke-width="0.7"/><line x1="632.79" y1="413.50" x2="632.79" y2="415.30" stroke="#777" stroke-width="0.7"/><line x1="638.22" y1="413.50" x2="638.22" y2="415.30" stroke="#777" stroke-width="0.7"/><line x1="642.93" y1="413.50" x2="642.93" y2="415.30" stroke="#777" stroke-width="0.7"/><line x1="647.08" y1="413.50" x2="647.08" y2="415.30" stroke="#777" stroke-width="0.7"/><line x1="650.80" y1="413.50" x2="650.80" y2="415.70" stroke="#555" stroke-width="0.8"/>
<line x1="479.50" y1="406.20" x2="481.50" y2="406.20" stroke="#777" stroke-width="0.8"/>
<text x="478.20" y="409.25" font-size="8.50" text-anchor="end" font-weight="normal" textLength="12.49" lengthAdjust="spacingAndGlyphs" fill="#1a1a1a">0.0</text>
<line x1="479.50" y1="386.06" x2="481.50" y2="386.06" stroke="#777" stroke-width="0.8"/>
<text x="478.20" y="389.11" font-size="8.50" text-anchor="end" font-weight="normal" textLength="12.49" lengthAdjust="spacingAndGlyphs" fill="#1a1a1a">0.2</text>
<line x1="479.50" y1="365.92" x2="481.50" y2="365.92" stroke="#777" stroke-width="0.8"/>
<text x="478.20" y="368.97" font-size="8.50" text-anchor="end" font-weight="normal" textLength="12.49" lengthAdjust="spacingAndGlyphs" fill="#1a1a1a">0.4</text>
<line x1="479.50" y1="345.78" x2="481.50" y2="345.78" stroke="#777" stroke-width="0.8"/>
<text x="478.20" y="348.83" font-size="8.50" text-anchor="end" font-weight="normal" textLength="12.49" lengthAdjust="spacingAndGlyphs" fill="#1a1a1a">0.6</text>
<line x1="479.50" y1="325.64" x2="481.50" y2="325.64" stroke="#777" stroke-width="0.8"/>
<text x="478.20" y="328.69" font-size="8.50" text-anchor="end" font-weight="normal" textLength="12.49" lengthAdjust="spacingAndGlyphs" fill="#1a1a1a">0.8</text>
<line x1="479.50" y1="305.50" x2="481.50" y2="305.50" stroke="#777" stroke-width="0.8"/>
<text x="478.20" y="308.55" font-size="8.50" text-anchor="end" font-weight="normal" textLength="12.49" lengthAdjust="spacingAndGlyphs" fill="#1a1a1a">1.0</text>
<line x1="479.50" y1="285.36" x2="481.50" y2="285.36" stroke="#777" stroke-width="0.8"/>
<text x="478.20" y="288.41" font-size="8.50" text-anchor="end" font-weight="normal" textLength="12.49" lengthAdjust="spacingAndGlyphs" fill="#1a1a1a">1.2</text>
<line x1="479.50" y1="265.22" x2="481.50" y2="265.22" stroke="#777" stroke-width="0.8"/>
<text x="478.20" y="268.27" font-size="8.50" text-anchor="end" font-weight="normal" textLength="12.49" lengthAdjust="spacingAndGlyphs" fill="#1a1a1a">1.4</text>
<line x1="479.50" y1="245.08" x2="481.50" y2="245.08" stroke="#777" stroke-width="0.8"/>
<text x="478.20" y="248.13" font-size="8.50" text-anchor="end" font-weight="normal" textLength="12.49" lengthAdjust="spacingAndGlyphs" fill="#1a1a1a">1.6</text>
<text x="482.40" y="235.60" font-size="9.18" text-anchor="start" font-weight="normal" textLength="15.59" lengthAdjust="spacingAndGlyphs" fill="#1a1a1a">1e6</text>
<text x="572.00" y="434.70" font-size="11.00" text-anchor="middle" font-weight="bold" textLength="62.30" lengthAdjust="spacingAndGlyphs" fill="#000">Size (nm)</text>
<g transform="translate(458.60,325.00) rotate(-90)" fill="#000"><text x="-59.00" y="0.00" font-size="11.40" font-weight="bold" textLength="35.90" lengthAdjust="spacingAndGlyphs">(dN/d</text><text x="-22.90" y="0.00" font-size="11.40" font-weight="normal" textLength="18.30" lengthAdjust="spacingAndGlyphs">log</text><text x="-3.00" y="0.00" font-size="11.40" font-weight="bold" textLength="9.00" lengthAdjust="spacingAndGlyphs">D</text><text x="6.90" y="2.00" font-size="8.20" font-weight="bold" textLength="5.40" lengthAdjust="spacingAndGlyphs">p</text><text x="13.40" y="0.00" font-size="11.40" font-weight="bold" textLength="3.80" lengthAdjust="spacingAndGlyphs">,</text><text x="21.20" y="0.00" font-size="11.40" font-weight="bold" textLength="18.90" lengthAdjust="spacingAndGlyphs">cm</text><text x="41.00" y="-5.20" font-size="8.60" font-weight="normal" textLength="12.20" lengthAdjust="spacingAndGlyphs">−3</text><text x="52.90" y="0.00" font-size="11.40" font-weight="bold" textLength="6.00" lengthAdjust="spacingAndGlyphs">)</text></g>
<rect x="610.20" y="240.30" width="48.50" height="24.10" rx="2" fill="#fff" fill-opacity="0.8" stroke="#d8d8d8" stroke-width="0.8"/>
<line x1="612.20" y1="246.30" x2="629.20" y2="246.30" stroke="#1f77b4" stroke-width="1.5"/>
<path d="M620.70 242.30V250.30M619.00 242.30h3.4M619.00 250.30h3.4" stroke="#1f77b4" stroke-width="0.8" fill="none"/>
<circle cx="620.70" cy="246.30" r="1.6" fill="#1f77b4"/>
<text x="634.70" y="249.15" font-size="7.95" text-anchor="start" font-weight="normal" textLength="9.98" lengthAdjust="spacingAndGlyphs" class="lg">B0</text>
<line x1="612.20" y1="257.40" x2="629.20" y2="257.40" stroke="#ff7f0e" stroke-width="1.5"/>
<path d="M620.70 253.40V261.40M619.00 253.40h3.4M619.00 261.40h3.4" stroke="#ff7f0e" stroke-width="0.8" fill="none"/>
<circle cx="620.70" cy="257.40" r="1.6" fill="#ff7f0e"/>
<text x="634.70" y="260.25" font-size="7.95" text-anchor="start" font-weight="normal" textLength="20.45" lengthAdjust="spacingAndGlyphs" class="lg">HV07</text>
<text x="137.80" y="10.80" font-size="11.60" text-anchor="middle" font-weight="bold" textLength="28.00" lengthAdjust="spacingAndGlyphs" fill="#000">Wp1</text>
<text x="349.30" y="10.80" font-size="11.60" text-anchor="middle" font-weight="bold" textLength="28.00" lengthAdjust="spacingAndGlyphs" fill="#000">Wp2</text>
<text x="560.80" y="10.80" font-size="11.60" text-anchor="middle" font-weight="bold" textLength="28.00" lengthAdjust="spacingAndGlyphs" fill="#000">Wp3</text>
<text transform="translate(683.0,80.3) rotate(-90)" text-anchor="middle" font-size="11.4" font-weight="bold" fill="#000" textLength="32.4" lengthAdjust="spacingAndGlyphs">T=40</text>
<text transform="translate(683.0,351.5) rotate(-90)" text-anchor="middle" font-size="11.4" font-weight="bold" fill="#000" textLength="38.6" lengthAdjust="spacingAndGlyphs">T=250</text></g></svg>
</body></html>
